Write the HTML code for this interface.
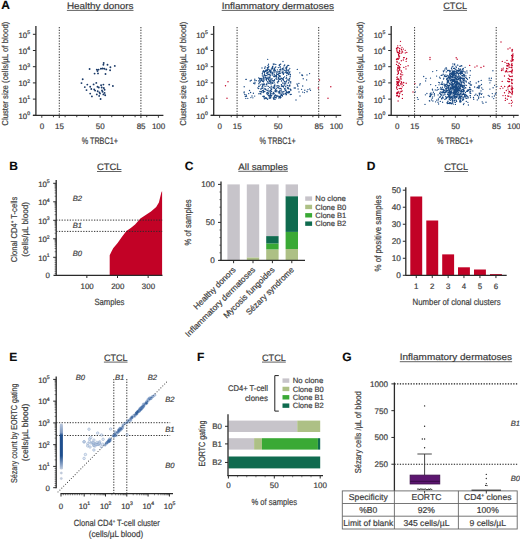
<!DOCTYPE html>
<html><head><meta charset="utf-8"><style>
html,body{margin:0;padding:0;background:#fff;width:520px;height:540px;overflow:hidden}
svg{display:block}
text{font-family:"Liberation Sans", sans-serif;fill:#3c3c3c;stroke:#3c3c3c;stroke-width:0.2px;text-rendering:geometricPrecision}
</style></head><body>
<svg width="520" height="540" viewBox="0 0 520 540">
<text x="1.20" y="9.40" font-size="12" font-weight="bold" style="fill:#0a0a0a;stroke:#0a0a0a;stroke-width:0.15px;">A</text>
<line x1="59.29" y1="27.00" x2="59.29" y2="115.00" stroke="#2a2a2a" stroke-width="0.95" stroke-dasharray="1.3 1.4"/>
<line x1="140.91" y1="27.00" x2="140.91" y2="115.00" stroke="#2a2a2a" stroke-width="0.95" stroke-dasharray="1.3 1.4"/>
<line x1="35.90" y1="26.00" x2="35.90" y2="116.00" stroke="#2a2a2a" stroke-width="1.3"/>
<line x1="32.90" y1="115.30" x2="35.90" y2="115.30" stroke="#2a2a2a" stroke-width="1"/>
<text x="30.00" y="118.70" font-size="7.8" text-anchor="end">10<tspan font-size="5.15" dy="-3.43">0</tspan></text>
<line x1="32.90" y1="99.10" x2="35.90" y2="99.10" stroke="#2a2a2a" stroke-width="1"/>
<text x="30.00" y="102.50" font-size="7.8" text-anchor="end">10<tspan font-size="5.15" dy="-3.43">1</tspan></text>
<line x1="32.90" y1="82.90" x2="35.90" y2="82.90" stroke="#2a2a2a" stroke-width="1"/>
<text x="30.00" y="86.30" font-size="7.8" text-anchor="end">10<tspan font-size="5.15" dy="-3.43">2</tspan></text>
<line x1="32.90" y1="66.70" x2="35.90" y2="66.70" stroke="#2a2a2a" stroke-width="1"/>
<text x="30.00" y="70.10" font-size="7.8" text-anchor="end">10<tspan font-size="5.15" dy="-3.43">3</tspan></text>
<line x1="32.90" y1="50.50" x2="35.90" y2="50.50" stroke="#2a2a2a" stroke-width="1"/>
<text x="30.00" y="53.90" font-size="7.8" text-anchor="end">10<tspan font-size="5.15" dy="-3.43">4</tspan></text>
<line x1="32.90" y1="34.30" x2="35.90" y2="34.30" stroke="#2a2a2a" stroke-width="1"/>
<text x="30.00" y="37.70" font-size="7.8" text-anchor="end">10<tspan font-size="5.15" dy="-3.43">5</tspan></text>
<line x1="32.90" y1="115.40" x2="163.40" y2="115.40" stroke="#2a2a2a" stroke-width="1.3"/>
<line x1="41.80" y1="115.40" x2="41.80" y2="117.80" stroke="#2a2a2a" stroke-width="0.9"/>
<line x1="53.46" y1="115.40" x2="53.46" y2="117.20" stroke="#2a2a2a" stroke-width="0.9"/>
<line x1="65.12" y1="115.40" x2="65.12" y2="117.20" stroke="#2a2a2a" stroke-width="0.9"/>
<line x1="76.78" y1="115.40" x2="76.78" y2="117.20" stroke="#2a2a2a" stroke-width="0.9"/>
<line x1="88.44" y1="115.40" x2="88.44" y2="117.20" stroke="#2a2a2a" stroke-width="0.9"/>
<line x1="100.10" y1="115.40" x2="100.10" y2="117.80" stroke="#2a2a2a" stroke-width="0.9"/>
<line x1="111.76" y1="115.40" x2="111.76" y2="117.20" stroke="#2a2a2a" stroke-width="0.9"/>
<line x1="123.42" y1="115.40" x2="123.42" y2="117.20" stroke="#2a2a2a" stroke-width="0.9"/>
<line x1="135.08" y1="115.40" x2="135.08" y2="117.20" stroke="#2a2a2a" stroke-width="0.9"/>
<line x1="146.74" y1="115.40" x2="146.74" y2="117.20" stroke="#2a2a2a" stroke-width="0.9"/>
<line x1="158.40" y1="115.40" x2="158.40" y2="117.80" stroke="#2a2a2a" stroke-width="0.9"/>
<line x1="59.29" y1="115.40" x2="59.29" y2="118.00" stroke="#2a2a2a" stroke-width="0.9"/>
<line x1="140.91" y1="115.40" x2="140.91" y2="118.00" stroke="#2a2a2a" stroke-width="0.9"/>
<text x="42.00" y="128.90" font-size="8.0" text-anchor="middle">0</text>
<text x="59.49" y="128.90" font-size="8.0" text-anchor="middle">15</text>
<text x="100.30" y="128.90" font-size="8.0" text-anchor="middle">50</text>
<text x="141.11" y="128.90" font-size="8.0" text-anchor="middle">85</text>
<text x="158.60" y="128.90" font-size="8.0" text-anchor="middle">100</text>
<text x="99.80" y="143.60" font-size="9.5" text-anchor="middle" textLength="36.3" lengthAdjust="spacingAndGlyphs">% TRBC1+</text>
<text x="7.90" y="73.70" font-size="8.6" text-anchor="middle" textLength="104" lengthAdjust="spacingAndGlyphs" transform="rotate(-90 7.90 73.70)">Cluster size (cells/µL of blood)</text>
<text x="100.20" y="8.90" font-size="9.3" text-anchor="middle" textLength="66.6" lengthAdjust="spacingAndGlyphs">Healthy donors</text>
<line x1="66.90" y1="10.40" x2="133.50" y2="10.40" stroke="#3a3a3a" stroke-width="0.8"/>
<path d="M103.7 62.9h0M103.4 64.8h0M107.5 64.8h0M114.8 65.9h0M110.4 67.3h0M89.6 69.0h0M96.8 69.6h0M98.6 69.6h0M100.9 68.8h0M102.6 68.5h0M104.4 68.8h0M106.3 69.4h0M110.1 70.2h0M97.5 71.1h0M94.6 73.6h0M98.0 73.4h0M105.5 74.0h0M82.7 79.2h0M81.5 83.1h0M87.3 84.6h0M93.6 84.4h0M96.3 82.9h0M84.8 87.1h0M90.2 86.7h0M97.5 86.7h0M101.1 85.2h0M103.4 84.6h0M109.2 84.6h0M112.9 86.0h0M91.3 89.0h0M94.2 89.4h0M98.8 87.5h0M101.7 87.5h0M86.5 90.1h0M95.1 90.6h0M97.7 91.3h0M104.6 89.8h0M102.6 91.8h0M104.6 92.9h0M100.0 93.6h0M90.2 93.6h0M96.8 94.4h0M103.4 94.4h0M91.9 96.4h0M99.2 95.9h0M100.6 99.0h0M105.2 95.2h0M102.0 90.5h0M99.5 92.5h0M103.8 88.0h0" stroke="#1a3a68" stroke-width="1.9" stroke-linecap="round" fill="none" opacity="1"/>
<line x1="237.09" y1="27.00" x2="237.09" y2="115.00" stroke="#2a2a2a" stroke-width="0.95" stroke-dasharray="1.3 1.4"/>
<line x1="318.71" y1="27.00" x2="318.71" y2="115.00" stroke="#2a2a2a" stroke-width="0.95" stroke-dasharray="1.3 1.4"/>
<line x1="213.70" y1="26.00" x2="213.70" y2="116.00" stroke="#2a2a2a" stroke-width="1.3"/>
<line x1="210.70" y1="115.30" x2="213.70" y2="115.30" stroke="#2a2a2a" stroke-width="1"/>
<text x="207.80" y="118.70" font-size="7.8" text-anchor="end">10<tspan font-size="5.15" dy="-3.43">0</tspan></text>
<line x1="210.70" y1="99.10" x2="213.70" y2="99.10" stroke="#2a2a2a" stroke-width="1"/>
<text x="207.80" y="102.50" font-size="7.8" text-anchor="end">10<tspan font-size="5.15" dy="-3.43">1</tspan></text>
<line x1="210.70" y1="82.90" x2="213.70" y2="82.90" stroke="#2a2a2a" stroke-width="1"/>
<text x="207.80" y="86.30" font-size="7.8" text-anchor="end">10<tspan font-size="5.15" dy="-3.43">2</tspan></text>
<line x1="210.70" y1="66.70" x2="213.70" y2="66.70" stroke="#2a2a2a" stroke-width="1"/>
<text x="207.80" y="70.10" font-size="7.8" text-anchor="end">10<tspan font-size="5.15" dy="-3.43">3</tspan></text>
<line x1="210.70" y1="50.50" x2="213.70" y2="50.50" stroke="#2a2a2a" stroke-width="1"/>
<text x="207.80" y="53.90" font-size="7.8" text-anchor="end">10<tspan font-size="5.15" dy="-3.43">4</tspan></text>
<line x1="210.70" y1="34.30" x2="213.70" y2="34.30" stroke="#2a2a2a" stroke-width="1"/>
<text x="207.80" y="37.70" font-size="7.8" text-anchor="end">10<tspan font-size="5.15" dy="-3.43">5</tspan></text>
<line x1="210.70" y1="115.40" x2="341.20" y2="115.40" stroke="#2a2a2a" stroke-width="1.3"/>
<line x1="219.60" y1="115.40" x2="219.60" y2="117.80" stroke="#2a2a2a" stroke-width="0.9"/>
<line x1="231.26" y1="115.40" x2="231.26" y2="117.20" stroke="#2a2a2a" stroke-width="0.9"/>
<line x1="242.92" y1="115.40" x2="242.92" y2="117.20" stroke="#2a2a2a" stroke-width="0.9"/>
<line x1="254.58" y1="115.40" x2="254.58" y2="117.20" stroke="#2a2a2a" stroke-width="0.9"/>
<line x1="266.24" y1="115.40" x2="266.24" y2="117.20" stroke="#2a2a2a" stroke-width="0.9"/>
<line x1="277.90" y1="115.40" x2="277.90" y2="117.80" stroke="#2a2a2a" stroke-width="0.9"/>
<line x1="289.56" y1="115.40" x2="289.56" y2="117.20" stroke="#2a2a2a" stroke-width="0.9"/>
<line x1="301.22" y1="115.40" x2="301.22" y2="117.20" stroke="#2a2a2a" stroke-width="0.9"/>
<line x1="312.88" y1="115.40" x2="312.88" y2="117.20" stroke="#2a2a2a" stroke-width="0.9"/>
<line x1="324.54" y1="115.40" x2="324.54" y2="117.20" stroke="#2a2a2a" stroke-width="0.9"/>
<line x1="336.20" y1="115.40" x2="336.20" y2="117.80" stroke="#2a2a2a" stroke-width="0.9"/>
<line x1="237.09" y1="115.40" x2="237.09" y2="118.00" stroke="#2a2a2a" stroke-width="0.9"/>
<line x1="318.71" y1="115.40" x2="318.71" y2="118.00" stroke="#2a2a2a" stroke-width="0.9"/>
<text x="219.80" y="128.90" font-size="8.0" text-anchor="middle">0</text>
<text x="237.29" y="128.90" font-size="8.0" text-anchor="middle">15</text>
<text x="278.10" y="128.90" font-size="8.0" text-anchor="middle">50</text>
<text x="318.91" y="128.90" font-size="8.0" text-anchor="middle">85</text>
<text x="336.40" y="128.90" font-size="8.0" text-anchor="middle">100</text>
<text x="277.60" y="143.60" font-size="9.5" text-anchor="middle" textLength="36.3" lengthAdjust="spacingAndGlyphs">% TRBC1+</text>
<text x="185.70" y="73.70" font-size="8.6" text-anchor="middle" textLength="104" lengthAdjust="spacingAndGlyphs" transform="rotate(-90 185.70 73.70)">Cluster size (cells/µL of blood)</text>
<text x="277.85" y="8.90" font-size="9.3" text-anchor="middle" textLength="112.30000000000001" lengthAdjust="spacingAndGlyphs">Inflammatory dermatoses</text>
<line x1="221.70" y1="10.40" x2="334.00" y2="10.40" stroke="#3a3a3a" stroke-width="0.8"/>
<path d="M267.3 67.7h0M279.7 64.8h0M275.4 75.9h0M271.1 93.4h0M278.8 98.0h0M276.9 77.1h0M287.6 73.0h0M266.7 93.0h0M261.9 84.1h0M279.3 76.2h0M275.8 64.4h0M280.9 78.2h0M266.9 84.3h0M272.2 73.4h0M285.2 88.6h0M264.3 83.8h0M275.0 95.3h0M282.7 72.9h0M270.9 90.8h0M260.8 80.6h0M284.1 83.8h0M288.3 73.9h0M281.4 84.6h0M277.0 79.3h0M273.0 87.2h0M286.2 72.8h0M269.7 87.4h0M269.9 95.1h0M275.9 95.6h0M286.1 94.8h0M265.6 77.8h0M268.6 95.6h0M263.9 80.4h0M277.4 72.0h0M269.0 83.5h0M274.6 85.5h0M280.7 64.1h0M289.2 91.6h0M288.2 92.3h0M269.9 77.2h0M258.9 86.1h0M278.3 67.6h0M264.6 75.2h0M268.8 66.7h0M272.7 80.4h0M268.0 72.1h0M286.5 68.1h0M275.1 67.6h0M275.1 99.2h0M287.8 88.5h0M264.9 75.9h0M261.3 91.3h0M275.2 91.6h0M267.5 70.5h0M287.4 92.6h0M286.1 90.1h0M263.6 81.7h0M264.8 88.3h0M263.4 70.6h0M278.7 96.2h0M286.9 80.2h0M279.8 92.4h0M289.6 91.7h0M283.5 80.2h0M261.8 92.0h0M267.6 92.4h0M270.3 98.0h0M282.5 68.5h0M289.4 92.6h0M260.6 93.4h0M268.3 82.8h0M275.0 97.5h0M271.5 95.1h0M286.4 70.0h0M264.6 73.1h0M264.1 84.3h0M264.9 77.9h0M268.4 79.4h0M277.2 96.4h0M271.0 96.9h0M274.1 82.2h0M271.7 69.0h0M261.5 80.0h0M282.6 83.1h0M267.4 81.7h0M276.1 91.8h0M259.0 83.3h0M264.4 72.5h0M284.3 81.3h0M276.3 90.9h0M289.7 78.8h0M278.3 81.2h0M274.5 88.3h0M272.2 82.3h0M273.2 97.8h0M281.6 95.3h0M276.3 97.8h0M286.9 67.2h0M259.6 78.8h0M260.9 89.2h0M280.1 67.4h0M270.1 80.5h0M261.1 78.4h0M274.6 74.9h0M262.4 74.1h0M276.1 78.7h0M278.7 81.5h0M265.3 66.9h0M271.0 96.6h0M286.1 71.8h0M276.7 88.6h0M281.2 78.2h0M279.1 92.5h0M272.2 74.9h0M276.0 97.2h0M265.2 66.9h0M275.0 71.1h0M266.9 73.6h0M283.9 73.0h0M274.0 68.8h0M282.9 82.9h0M262.2 80.0h0M286.1 78.4h0M273.8 93.7h0M269.9 81.3h0M268.0 93.6h0M281.9 86.2h0M270.4 75.2h0M264.7 68.2h0M288.1 87.5h0M265.7 71.2h0M266.1 79.5h0M261.0 78.9h0M265.0 98.5h0M264.3 98.7h0M266.8 75.6h0M273.0 81.1h0M262.6 81.2h0M266.6 70.8h0M277.3 82.1h0M283.5 87.0h0M282.2 95.4h0M269.8 74.4h0M282.5 86.4h0M288.9 85.8h0M282.9 92.9h0M260.3 81.9h0M274.2 93.7h0M285.6 93.4h0M277.2 95.9h0M281.0 88.3h0M259.0 93.8h0M276.2 85.9h0M278.8 87.9h0M285.3 90.4h0M274.1 82.3h0M280.1 64.5h0M283.0 71.6h0M282.7 69.8h0M273.8 76.5h0M273.2 88.0h0M284.1 85.4h0M279.4 64.9h0M283.2 73.6h0M280.5 88.3h0M280.7 73.1h0M274.6 79.7h0M272.7 66.5h0M289.0 69.6h0M272.1 72.2h0M263.0 84.1h0M260.4 81.9h0M286.2 81.3h0M288.7 88.7h0M263.8 96.1h0M272.1 73.5h0M267.0 93.9h0M286.9 66.6h0M290.2 89.1h0M289.3 73.0h0M269.1 76.9h0M268.7 78.3h0M258.9 93.7h0M265.9 97.6h0M264.5 72.1h0M274.4 69.2h0M269.2 98.3h0M288.6 92.9h0M279.0 96.7h0M290.7 82.9h0M282.8 79.1h0M283.6 86.5h0M272.9 75.1h0M266.3 90.1h0M279.9 73.4h0M276.2 77.0h0M262.9 96.4h0M273.9 70.4h0M272.1 67.3h0M268.0 65.5h0M264.1 71.8h0M276.6 95.7h0M283.5 77.7h0M270.7 81.9h0M269.3 74.9h0M274.1 85.9h0M287.8 70.2h0M265.3 71.4h0M270.2 78.9h0M289.0 80.0h0M269.9 97.2h0M286.4 94.5h0M274.8 87.9h0M290.8 89.4h0M279.6 91.1h0M272.4 83.0h0M263.8 97.0h0M279.5 73.5h0M279.2 88.5h0M274.9 84.1h0M269.7 70.5h0M266.5 79.5h0M288.6 80.1h0M263.9 71.4h0M273.9 87.6h0M271.0 71.8h0M280.4 97.2h0M267.8 78.0h0M280.9 69.5h0M285.3 90.1h0M274.2 69.8h0M286.2 70.8h0M263.4 90.9h0M266.2 98.2h0M273.8 69.1h0M263.5 77.8h0M280.3 98.1h0M290.4 74.5h0M280.2 76.4h0M269.2 74.6h0M265.6 75.4h0M268.6 93.2h0M286.2 78.4h0M269.2 96.9h0M262.3 75.8h0M270.6 92.8h0M290.0 71.8h0M267.9 72.3h0M265.0 89.2h0M267.0 72.5h0M289.8 86.1h0M263.9 80.1h0M269.7 71.5h0M271.3 80.8h0M285.5 90.1h0M286.3 91.4h0M278.1 74.5h0M267.1 75.8h0M284.7 65.0h0M262.5 90.6h0M267.4 99.2h0M258.7 80.9h0M282.0 79.0h0M263.9 77.8h0M278.6 87.6h0M283.4 94.2h0M280.2 66.6h0M287.0 73.2h0M276.5 76.2h0M283.0 69.6h0M264.4 71.3h0M277.0 74.4h0M274.3 70.8h0M285.7 86.8h0M273.0 93.1h0M290.3 76.1h0M287.9 79.1h0M264.9 91.6h0M277.7 85.6h0M263.3 76.0h0M264.7 84.8h0M279.8 69.7h0M280.8 69.0h0M266.9 69.7h0M285.2 82.8h0M270.0 82.9h0M279.3 65.5h0M261.2 88.4h0M270.6 72.8h0M266.7 98.2h0M266.9 83.5h0M268.6 77.8h0M268.8 69.5h0M282.7 69.7h0M271.1 93.2h0M270.4 95.5h0M272.5 68.2h0M279.3 96.6h0M269.1 81.2h0M274.8 97.2h0M259.1 80.6h0M273.3 64.0h0M290.2 76.7h0M289.4 85.6h0M286.3 68.1h0M284.9 70.4h0M270.4 94.2h0M286.5 69.0h0M263.3 77.2h0M274.7 76.6h0M282.5 96.1h0M286.9 66.5h0M277.8 82.9h0M278.8 73.6h0M271.0 84.1h0M271.2 87.0h0M272.0 78.7h0M273.6 70.9h0M284.0 91.6h0M272.4 68.8h0M273.0 66.1h0M259.9 78.4h0M279.2 65.1h0M282.9 91.6h0M274.4 64.1h0M274.1 76.4h0M282.8 93.0h0M273.7 98.4h0M289.8 68.3h0M283.7 68.0h0M289.1 72.4h0M286.0 67.5h0M274.1 97.0h0M262.9 72.0h0M274.2 74.1h0M280.8 96.0h0M261.4 91.8h0M259.4 82.2h0M279.2 75.7h0M288.2 83.1h0M277.0 95.5h0M278.9 77.0h0M285.3 72.1h0M268.7 91.1h0M271.8 68.7h0M286.2 71.6h0M277.3 87.2h0M278.4 78.4h0M274.5 96.0h0M263.5 84.2h0M277.4 69.8h0M278.7 80.0h0M258.6 86.3h0M288.1 91.7h0M270.3 72.0h0M276.4 75.3h0M279.5 78.9h0M290.6 89.9h0M264.4 96.3h0M270.4 71.0h0M262.6 85.1h0M274.3 86.4h0M285.9 68.6h0M266.8 73.4h0M284.8 89.2h0M283.3 79.7h0M283.2 79.2h0M267.7 90.5h0M281.4 94.1h0M282.0 72.1h0M276.0 78.6h0M285.0 81.9h0M265.1 86.4h0M264.9 71.0h0M283.4 74.4h0M288.4 74.5h0M264.1 96.5h0M279.0 88.3h0M272.8 93.9h0M281.5 94.6h0M271.6 89.5h0M276.7 73.7h0M263.1 85.7h0M268.1 67.4h0M281.3 86.1h0M281.5 90.0h0M268.8 93.1h0M287.2 92.9h0M279.1 93.4h0M279.0 72.9h0M283.8 69.8h0M267.1 78.1h0M265.7 89.2h0M269.0 74.2h0M287.4 85.5h0M271.6 91.4h0M268.2 88.8h0M275.4 70.2h0M287.8 65.5h0M286.2 68.5h0M273.7 92.3h0M262.0 80.8h0M268.2 93.6h0M264.9 97.9h0M265.8 70.2h0M281.6 80.9h0M259.2 86.2h0M281.5 91.9h0M278.9 75.5h0M270.2 77.0h0M288.8 65.3h0M262.8 72.0h0M289.2 81.0h0M269.4 95.6h0M263.9 79.5h0M275.2 90.7h0M283.6 86.6h0M268.2 74.4h0M260.9 94.0h0M280.2 90.2h0M261.4 78.7h0M284.4 84.0h0M259.8 79.6h0M288.6 71.0h0M262.3 73.5h0M281.7 94.1h0M264.4 74.4h0M274.8 68.1h0M267.5 69.2h0M282.9 78.5h0M262.5 86.2h0M270.2 92.1h0M281.4 81.0h0M279.0 79.6h0M260.4 84.9h0M270.4 90.2h0M289.5 78.3h0M276.8 90.5h0M271.0 70.7h0M282.4 95.4h0M284.4 88.6h0M287.4 87.8h0M279.4 79.2h0M266.9 85.9h0M258.7 77.9h0M284.7 89.1h0M278.9 71.5h0M271.1 79.3h0M278.6 77.6h0M280.7 97.3h0M262.0 86.9h0M284.6 76.8h0M273.6 99.0h0M261.1 91.7h0M290.7 81.7h0M258.8 83.8h0M275.6 89.3h0M274.5 86.3h0M286.5 81.8h0M270.6 98.0h0M263.0 88.0h0M269.9 91.0h0M268.5 64.2h0M265.4 77.2h0M271.0 88.5h0M268.4 72.1h0M263.5 90.2h0M290.7 82.0h0M263.3 92.5h0M269.9 70.1h0M259.9 91.5h0M285.8 86.1h0M272.8 83.4h0M268.4 86.3h0M286.1 93.0h0M272.8 73.2h0M275.8 66.8h0M286.7 75.5h0M287.3 72.2h0M269.3 71.6h0M271.2 69.1h0M265.7 71.3h0M266.5 80.2h0M271.3 86.2h0M280.1 75.8h0M290.3 94.5h0M289.4 91.8h0M260.3 93.6h0M279.9 71.5h0M263.9 91.5h0M268.2 67.8h0M289.4 92.1h0M278.1 91.7h0M280.4 96.0h0M284.9 93.9h0M262.5 88.3h0M275.2 90.2h0M271.7 95.5h0M276.1 72.1h0M273.7 64.2h0M272.7 67.5h0M273.7 80.9h0M275.5 94.8h0M272.8 83.4h0M280.3 93.9h0M269.2 77.9h0M279.2 86.2h0M280.9 97.4h0M267.6 99.3h0M274.4 80.4h0M282.3 85.8h0M267.9 94.7h0M268.9 80.0h0M275.0 91.3h0M263.0 78.5h0M271.1 83.1h0M286.4 73.1h0M286.5 77.3h0M274.1 72.3h0M274.2 99.0h0M279.9 92.1h0M267.6 74.0h0M266.4 84.3h0M279.1 91.8h0M288.7 82.7h0M290.0 85.1h0M280.0 92.0h0M289.6 85.2h0M278.4 85.8h0M281.5 84.7h0M280.9 70.1h0M280.3 79.4h0M284.0 65.9h0M279.9 76.0h0M286.3 91.9h0M276.4 71.8h0M266.5 78.0h0M267.1 78.4h0M279.4 97.5h0M285.8 83.9h0M257.8 87.9h0M244.2 86.7h0M252.9 97.8h0M258.7 88.5h0M250.2 81.0h0M253.7 83.2h0M246.3 79.3h0M244.1 92.7h0M245.8 98.3h0M245.3 96.4h0M245.9 79.4h0M254.8 83.8h0M255.0 82.7h0M244.8 94.5h0M254.7 96.1h0M254.9 80.7h0M253.4 93.2h0M250.9 97.6h0M247.8 98.3h0M254.8 79.2h0M244.2 92.0h0M256.3 80.6h0M248.7 93.6h0M246.5 96.2h0M251.3 80.2h0M249.5 90.5h0M250.6 92.5h0M246.2 94.9h0M297.6 85.1h0M303.2 78.7h0M298.1 89.0h0M309.8 89.0h0M301.9 75.2h0M291.3 94.3h0M304.8 90.2h0M297.0 84.0h0M310.5 90.3h0M302.6 75.6h0M299.0 91.9h0M297.9 86.2h0M302.6 92.1h0M307.0 74.9h0M290.0 74.4h0M298.9 83.4h0M307.1 91.8h0M290.9 90.3h0M307.0 91.3h0M302.0 74.7h0M307.9 89.6h0M304.4 92.6h0M297.3 69.4h0M301.6 89.3h0M294.2 88.0h0M309.6 73.6h0M302.7 86.0h0M299.8 72.8h0M295.3 88.0h0M306.6 79.9h0M267.7 59.3h0M262.0 68.0h0M283.0 61.5h0M296.0 100.0h0M252.0 96.0h0M300.0 96.0h0" stroke="#1a4a84" stroke-width="1.35" stroke-linecap="round" fill="none" opacity="1"/>
<path d="M228.0 81.8h0M225.5 85.8h0M227.0 98.3h0M319.5 80.0h0M318.3 88.0h0M330.8 86.8h0M328.0 98.3h0" stroke="#c20226" stroke-width="1.4" stroke-linecap="round" fill="none" opacity="1"/>
<line x1="414.59" y1="27.00" x2="414.59" y2="115.00" stroke="#2a2a2a" stroke-width="0.95" stroke-dasharray="1.3 1.4"/>
<line x1="496.21" y1="27.00" x2="496.21" y2="115.00" stroke="#2a2a2a" stroke-width="0.95" stroke-dasharray="1.3 1.4"/>
<line x1="391.20" y1="26.00" x2="391.20" y2="116.00" stroke="#2a2a2a" stroke-width="1.3"/>
<line x1="388.20" y1="115.30" x2="391.20" y2="115.30" stroke="#2a2a2a" stroke-width="1"/>
<text x="385.30" y="118.70" font-size="7.8" text-anchor="end">10<tspan font-size="5.15" dy="-3.43">0</tspan></text>
<line x1="388.20" y1="99.10" x2="391.20" y2="99.10" stroke="#2a2a2a" stroke-width="1"/>
<text x="385.30" y="102.50" font-size="7.8" text-anchor="end">10<tspan font-size="5.15" dy="-3.43">1</tspan></text>
<line x1="388.20" y1="82.90" x2="391.20" y2="82.90" stroke="#2a2a2a" stroke-width="1"/>
<text x="385.30" y="86.30" font-size="7.8" text-anchor="end">10<tspan font-size="5.15" dy="-3.43">2</tspan></text>
<line x1="388.20" y1="66.70" x2="391.20" y2="66.70" stroke="#2a2a2a" stroke-width="1"/>
<text x="385.30" y="70.10" font-size="7.8" text-anchor="end">10<tspan font-size="5.15" dy="-3.43">3</tspan></text>
<line x1="388.20" y1="50.50" x2="391.20" y2="50.50" stroke="#2a2a2a" stroke-width="1"/>
<text x="385.30" y="53.90" font-size="7.8" text-anchor="end">10<tspan font-size="5.15" dy="-3.43">4</tspan></text>
<line x1="388.20" y1="34.30" x2="391.20" y2="34.30" stroke="#2a2a2a" stroke-width="1"/>
<text x="385.30" y="37.70" font-size="7.8" text-anchor="end">10<tspan font-size="5.15" dy="-3.43">5</tspan></text>
<line x1="388.20" y1="115.40" x2="518.70" y2="115.40" stroke="#2a2a2a" stroke-width="1.3"/>
<line x1="397.10" y1="115.40" x2="397.10" y2="117.80" stroke="#2a2a2a" stroke-width="0.9"/>
<line x1="408.76" y1="115.40" x2="408.76" y2="117.20" stroke="#2a2a2a" stroke-width="0.9"/>
<line x1="420.42" y1="115.40" x2="420.42" y2="117.20" stroke="#2a2a2a" stroke-width="0.9"/>
<line x1="432.08" y1="115.40" x2="432.08" y2="117.20" stroke="#2a2a2a" stroke-width="0.9"/>
<line x1="443.74" y1="115.40" x2="443.74" y2="117.20" stroke="#2a2a2a" stroke-width="0.9"/>
<line x1="455.40" y1="115.40" x2="455.40" y2="117.80" stroke="#2a2a2a" stroke-width="0.9"/>
<line x1="467.06" y1="115.40" x2="467.06" y2="117.20" stroke="#2a2a2a" stroke-width="0.9"/>
<line x1="478.72" y1="115.40" x2="478.72" y2="117.20" stroke="#2a2a2a" stroke-width="0.9"/>
<line x1="490.38" y1="115.40" x2="490.38" y2="117.20" stroke="#2a2a2a" stroke-width="0.9"/>
<line x1="502.04" y1="115.40" x2="502.04" y2="117.20" stroke="#2a2a2a" stroke-width="0.9"/>
<line x1="513.70" y1="115.40" x2="513.70" y2="117.80" stroke="#2a2a2a" stroke-width="0.9"/>
<line x1="414.59" y1="115.40" x2="414.59" y2="118.00" stroke="#2a2a2a" stroke-width="0.9"/>
<line x1="496.21" y1="115.40" x2="496.21" y2="118.00" stroke="#2a2a2a" stroke-width="0.9"/>
<text x="397.30" y="128.90" font-size="8.0" text-anchor="middle">0</text>
<text x="414.79" y="128.90" font-size="8.0" text-anchor="middle">15</text>
<text x="455.60" y="128.90" font-size="8.0" text-anchor="middle">50</text>
<text x="496.41" y="128.90" font-size="8.0" text-anchor="middle">85</text>
<text x="513.90" y="128.90" font-size="8.0" text-anchor="middle">100</text>
<text x="455.10" y="143.60" font-size="9.5" text-anchor="middle" textLength="36.3" lengthAdjust="spacingAndGlyphs">% TRBC1+</text>
<text x="363.20" y="73.70" font-size="8.6" text-anchor="middle" textLength="104" lengthAdjust="spacingAndGlyphs" transform="rotate(-90 363.20 73.70)">Cluster size (cells/µL of blood)</text>
<text x="455.15" y="8.90" font-size="9.3" text-anchor="middle" textLength="23.69999999999999" lengthAdjust="spacingAndGlyphs">CTCL</text>
<line x1="443.30" y1="10.40" x2="467.00" y2="10.40" stroke="#3a3a3a" stroke-width="0.8"/>
<path d="M465.5 92.4h0M456.2 74.1h0M443.3 70.8h0M461.4 73.2h0M446.9 84.2h0M457.1 88.7h0M459.8 97.5h0M450.0 92.8h0M449.1 89.6h0M456.7 84.7h0M461.8 81.8h0M462.7 91.6h0M456.4 75.8h0M450.6 76.2h0M454.2 81.7h0M460.5 72.5h0M450.9 78.5h0M456.7 70.6h0M466.0 75.8h0M455.5 85.1h0M456.7 88.6h0M457.3 83.8h0M443.2 74.2h0M440.3 88.9h0M457.5 79.9h0M450.2 75.6h0M455.1 96.2h0M452.4 72.4h0M451.9 84.1h0M455.8 85.0h0M455.3 92.2h0M456.6 79.1h0M457.8 65.2h0M458.9 84.1h0M453.1 73.7h0M446.3 71.9h0M460.0 88.0h0M455.4 87.7h0M451.6 82.8h0M455.8 88.1h0M455.0 80.4h0M454.6 74.9h0M470.0 87.7h0M460.0 91.2h0M467.8 96.5h0M460.5 69.1h0M449.8 85.0h0M458.8 70.8h0M453.0 77.6h0M455.9 85.7h0M453.6 68.4h0M463.6 99.6h0M454.8 93.3h0M458.4 89.3h0M458.6 73.6h0M459.2 93.1h0M449.7 103.6h0M468.4 90.2h0M453.3 75.4h0M450.2 83.3h0M455.3 89.4h0M470.3 81.7h0M459.9 87.2h0M457.3 79.7h0M454.7 72.9h0M456.7 81.7h0M457.6 72.6h0M455.8 82.5h0M459.4 70.3h0M458.2 92.8h0M459.4 77.9h0M452.3 79.4h0M460.2 99.1h0M454.5 74.9h0M457.9 84.2h0M449.6 73.9h0M454.8 89.4h0M447.7 70.8h0M458.7 68.5h0M456.2 85.9h0M454.8 70.8h0M455.1 78.3h0M457.7 72.8h0M454.4 82.1h0M461.8 75.3h0M459.0 75.8h0M460.3 101.1h0M452.9 86.9h0M449.5 92.7h0M463.4 82.4h0M448.1 86.4h0M463.0 94.0h0M451.1 97.6h0M447.5 94.4h0M467.7 90.4h0M462.8 78.3h0M447.5 80.9h0M454.2 81.5h0M460.0 80.4h0M456.7 86.7h0M455.5 102.3h0M458.4 82.9h0M454.2 75.1h0M464.2 83.7h0M448.5 75.8h0M454.6 77.1h0M462.5 69.2h0M458.7 83.6h0M447.8 82.5h0M454.9 87.5h0M452.6 85.3h0M444.7 70.1h0M460.6 93.5h0M455.4 75.4h0M450.3 89.4h0M459.7 70.6h0M443.2 98.0h0M456.5 72.1h0M455.9 91.9h0M462.9 86.4h0M470.1 75.3h0M455.5 93.5h0M451.3 74.2h0M453.1 81.2h0M448.5 87.3h0M459.0 82.8h0M466.6 78.4h0M464.0 76.0h0M456.8 80.1h0M452.3 75.3h0M453.2 74.1h0M441.2 75.4h0M451.9 76.2h0M448.6 80.5h0M460.6 79.2h0M452.3 96.9h0M461.9 92.1h0M463.0 78.4h0M454.7 94.2h0M451.9 80.7h0M458.0 86.1h0M453.7 92.8h0M454.3 90.0h0M462.5 89.3h0M460.3 69.2h0M447.0 75.2h0M458.6 98.5h0M447.6 85.4h0M449.9 73.9h0M453.7 89.6h0M456.9 95.0h0M449.1 91.8h0M461.5 82.8h0M458.6 75.8h0M448.4 77.5h0M452.3 100.2h0M456.8 85.4h0M460.3 73.4h0M461.5 86.1h0M445.6 88.6h0M459.1 87.0h0M465.8 77.4h0M458.8 90.2h0M449.6 95.2h0M446.1 67.7h0M458.9 70.0h0M454.7 63.9h0M455.9 69.5h0M457.7 65.1h0M458.4 79.1h0M455.9 81.3h0M456.3 67.5h0M438.8 82.4h0M449.4 77.0h0M450.5 75.3h0M448.6 85.6h0M454.6 73.0h0M449.1 90.9h0M451.2 88.4h0M448.5 82.0h0M457.7 90.6h0M460.7 93.4h0M453.1 79.7h0M460.5 77.3h0M459.7 80.1h0M442.7 92.8h0M457.5 82.2h0M448.5 76.9h0M465.3 72.9h0M447.7 80.5h0M452.9 72.0h0M450.0 93.5h0M452.0 70.0h0M460.6 88.2h0M448.7 90.2h0M443.5 71.8h0M462.8 79.2h0M447.0 87.7h0M461.5 81.8h0M443.8 78.2h0M458.2 90.5h0M467.5 79.2h0M452.4 81.6h0M463.3 71.6h0M460.7 74.6h0M458.5 89.6h0M447.8 81.0h0M457.1 88.5h0M449.5 71.1h0M454.2 79.6h0M445.8 92.2h0M452.0 97.8h0M461.0 82.2h0M460.2 69.8h0M453.4 75.7h0M447.2 82.2h0M454.6 97.8h0M449.5 76.9h0M458.2 86.4h0M455.7 76.8h0M458.7 86.0h0M443.5 79.1h0M446.6 69.0h0M456.5 82.7h0M456.2 72.4h0M454.2 72.0h0M458.0 89.6h0M466.9 95.9h0M450.3 77.0h0M449.4 85.4h0M468.4 89.8h0M447.1 87.7h0M455.5 85.3h0M467.1 72.9h0M450.0 103.6h0M457.7 73.4h0M439.6 82.8h0M455.8 92.9h0M454.6 74.4h0M450.7 102.9h0M444.0 83.9h0M455.7 88.8h0M452.9 87.5h0M460.8 80.4h0M452.5 80.0h0M449.2 79.7h0M453.5 84.3h0M464.2 96.4h0M452.6 88.6h0M457.4 90.4h0M455.6 84.9h0M452.5 73.4h0M461.2 96.3h0M459.8 86.8h0M457.2 77.0h0M443.9 89.3h0M456.8 75.9h0M449.2 96.1h0M450.8 81.8h0M452.2 83.7h0M454.1 73.8h0M462.5 73.4h0M452.2 88.1h0M452.0 77.2h0M457.8 78.0h0M447.4 80.9h0M454.1 100.8h0M448.4 92.7h0M450.4 78.1h0M453.4 85.0h0M461.1 101.2h0M451.4 96.6h0M462.0 90.9h0M450.6 91.9h0M454.8 85.9h0M453.8 89.3h0M462.7 94.4h0M454.2 92.9h0M464.9 71.7h0M465.1 67.3h0M459.0 88.5h0M465.1 85.1h0M452.4 73.2h0M447.4 90.4h0M454.0 74.1h0M459.0 73.6h0M452.7 77.0h0M466.3 98.1h0M454.5 64.7h0M457.3 82.8h0M457.8 88.2h0M453.4 92.2h0M460.9 84.3h0M452.9 76.7h0M460.0 69.9h0M454.5 73.8h0M446.4 88.6h0M455.3 82.4h0M461.2 65.6h0M455.1 85.2h0M460.9 70.1h0M460.2 84.4h0M464.3 94.5h0M455.5 77.3h0M453.3 71.7h0M455.0 86.7h0M461.9 78.2h0M464.5 74.8h0M450.6 73.3h0M465.0 87.7h0M448.5 87.7h0M458.6 79.5h0M455.6 78.7h0M454.9 95.8h0M464.6 79.0h0M450.8 79.7h0M461.2 85.8h0M451.8 85.9h0M454.2 87.5h0M452.9 66.2h0M455.9 90.2h0M448.5 80.8h0M461.1 78.0h0M451.4 103.8h0M460.8 93.0h0M449.5 99.5h0M445.0 76.4h0M460.2 96.2h0M449.6 74.9h0M459.5 88.0h0M452.7 87.7h0M460.4 85.3h0M458.8 98.2h0M452.5 83.7h0M452.2 93.0h0M452.9 87.1h0M456.4 82.7h0M466.3 81.1h0M464.4 90.8h0M463.8 80.2h0M461.3 90.0h0M451.6 84.9h0M454.7 81.6h0M463.7 74.3h0M452.7 75.1h0M455.6 88.0h0M466.5 85.3h0M458.4 74.2h0M459.1 96.4h0M461.1 98.8h0M460.7 66.1h0M453.6 88.2h0M458.1 73.4h0M449.9 92.2h0M447.1 97.2h0M455.6 85.2h0M447.2 75.7h0M459.8 66.4h0M447.9 82.5h0M458.5 89.8h0M453.2 79.8h0M454.0 75.9h0M457.1 83.7h0M451.6 84.7h0M455.4 81.2h0M457.1 70.7h0M453.5 97.8h0M448.7 80.9h0M451.8 92.0h0M458.7 78.3h0M453.5 93.4h0M450.0 78.1h0M456.4 86.4h0M452.3 92.9h0M469.5 77.7h0M464.3 78.4h0M456.4 78.4h0M451.5 68.5h0M453.0 95.7h0M462.6 78.3h0M452.2 74.6h0M448.0 101.1h0M459.6 83.2h0M452.4 71.2h0M463.7 90.2h0M449.6 92.4h0M448.6 88.8h0M449.5 77.6h0M458.6 86.6h0M461.8 73.2h0M465.4 96.2h0M455.4 86.9h0M450.6 80.4h0M447.3 82.9h0M456.7 96.2h0M461.4 90.6h0M453.2 79.6h0M453.4 84.3h0M443.5 90.1h0M445.7 76.6h0M455.6 76.6h0M465.9 81.0h0M465.3 94.4h0M452.4 86.2h0M463.6 78.5h0M456.1 76.1h0M455.9 78.3h0M456.0 92.6h0M464.2 83.4h0M456.8 91.0h0M453.7 70.8h0M462.4 72.1h0M461.3 71.8h0M466.9 71.0h0M460.8 97.8h0M449.5 97.7h0M460.0 89.4h0M455.2 78.8h0M453.1 78.9h0M444.3 76.0h0M466.7 98.3h0M453.2 74.5h0M458.0 93.2h0M460.0 69.7h0M456.5 83.5h0M464.5 94.6h0M458.8 94.8h0M453.0 98.2h0M452.8 86.2h0M461.2 72.4h0M456.5 81.4h0M453.5 87.3h0M442.3 81.8h0M456.0 79.2h0M460.5 100.5h0M452.7 72.1h0M451.7 83.0h0M459.2 72.9h0M461.7 71.2h0M460.7 86.5h0M453.9 80.3h0M458.5 91.1h0M447.1 84.9h0M450.9 88.7h0M464.0 82.5h0M454.8 83.9h0M459.0 83.7h0M453.0 74.3h0M454.4 94.8h0M454.9 96.2h0M439.5 77.1h0M457.2 81.9h0M445.1 75.0h0M463.3 68.4h0M449.3 70.4h0M452.1 88.8h0M464.6 75.7h0M451.8 99.6h0M455.0 68.9h0M451.5 74.3h0M449.2 78.5h0M461.0 85.7h0M449.3 83.2h0M455.7 90.0h0M453.5 86.8h0M468.6 83.0h0M448.7 85.5h0M450.5 78.1h0M456.7 85.6h0M453.7 91.0h0M454.3 68.2h0M461.0 78.2h0M463.1 75.1h0M459.1 85.3h0M448.5 96.9h0M443.7 91.6h0M462.3 87.2h0M459.7 76.8h0M455.4 84.4h0M458.1 89.5h0M454.2 74.6h0M452.0 86.3h0M445.1 68.8h0M452.9 76.2h0M453.4 79.3h0M453.6 87.0h0M458.6 94.6h0M462.1 70.9h0M459.5 78.5h0M450.5 98.2h0M451.6 73.0h0M453.0 73.0h0M461.8 86.0h0M464.3 86.3h0M451.7 93.1h0M451.4 77.1h0M454.5 82.4h0M463.0 75.6h0M457.7 81.7h0M447.6 70.4h0M454.1 86.3h0M457.5 87.1h0M455.8 77.3h0M458.2 71.4h0M447.1 78.5h0M446.5 76.5h0M450.8 76.1h0M455.2 73.5h0M452.9 63.9h0M456.4 72.7h0M450.5 84.6h0M440.2 78.2h0M456.1 83.1h0M446.1 84.4h0M456.4 71.7h0M460.2 81.5h0M455.6 77.2h0M458.9 83.0h0M462.6 86.8h0M451.6 79.6h0M461.3 78.1h0M457.9 87.5h0M456.3 84.3h0M456.4 73.9h0M463.1 80.6h0M451.6 74.4h0M457.8 70.4h0M449.2 103.3h0M463.7 93.2h0M464.1 88.3h0M444.9 94.7h0M463.3 87.2h0M443.2 95.2h0M464.1 76.8h0M456.3 90.3h0M455.0 93.7h0M456.0 89.4h0M456.0 66.2h0M457.3 96.0h0M462.7 100.3h0M459.0 75.6h0M454.3 91.7h0M441.9 84.1h0M460.7 96.2h0M449.7 75.0h0M443.7 71.1h0M448.3 96.7h0M458.2 76.7h0M455.1 84.3h0M469.8 83.4h0M461.7 96.6h0M458.7 85.8h0M454.3 77.6h0M457.2 81.6h0M456.6 101.4h0M454.8 79.2h0M450.8 81.8h0M452.7 84.2h0M450.1 102.6h0M461.0 90.7h0M460.0 90.8h0M459.8 97.1h0M461.9 96.4h0M452.3 82.0h0M450.9 92.2h0M460.8 77.0h0M463.3 70.1h0M454.9 88.8h0M455.3 86.1h0M463.0 85.5h0M448.6 89.7h0M454.9 83.2h0M451.9 67.2h0M447.6 78.2h0M462.8 69.6h0M450.9 87.7h0M450.6 89.1h0M452.5 85.3h0M456.2 82.0h0M455.2 97.1h0M452.0 87.7h0M456.5 87.2h0M461.8 65.9h0M457.2 80.1h0M453.5 72.9h0M450.5 71.0h0M466.3 82.1h0M460.2 71.5h0M456.4 97.4h0M455.2 71.3h0M454.0 71.3h0M446.7 79.5h0M453.0 73.3h0M449.9 72.0h0M457.0 96.9h0M445.3 84.9h0M448.2 80.3h0M456.1 88.0h0M462.7 76.1h0M447.6 80.0h0M454.9 89.3h0M460.7 102.0h0M438.1 94.9h0M461.9 82.7h0M454.0 91.8h0M438.1 100.1h0M454.1 90.4h0M456.3 96.4h0M459.5 96.1h0M456.0 86.7h0M447.9 93.7h0M425.0 104.4h0M448.3 87.3h0M434.3 94.3h0M452.3 89.9h0M447.9 88.2h0M444.7 92.5h0M445.7 96.6h0M450.6 93.7h0M456.0 99.8h0M457.9 94.2h0M450.4 88.7h0M448.7 96.7h0M454.2 90.9h0M439.0 84.8h0M455.1 98.5h0M455.6 85.6h0M449.9 94.2h0M443.1 94.9h0M450.0 88.5h0M439.9 97.3h0M455.5 88.2h0M442.1 97.8h0M457.8 91.4h0M467.5 91.4h0M441.7 98.9h0M450.2 94.9h0M452.4 87.6h0M440.4 92.0h0M465.7 87.6h0M465.2 94.2h0M441.2 94.4h0M457.5 88.2h0M431.3 94.9h0M441.2 95.4h0M433.4 92.2h0M444.1 85.1h0M449.7 93.9h0M446.6 86.7h0M454.1 83.6h0M457.2 95.6h0M468.3 97.7h0M455.5 94.4h0M452.3 85.9h0M466.2 95.8h0M449.2 86.9h0M466.4 95.8h0M440.5 96.6h0M470.4 92.9h0M455.9 90.8h0M445.9 98.7h0M481.9 93.6h0M450.8 97.2h0M449.0 96.9h0M460.0 87.6h0M441.6 92.6h0M460.1 94.5h0M464.1 85.6h0M456.8 89.7h0M453.0 94.7h0M442.6 91.8h0M440.7 94.4h0M443.7 90.4h0M454.1 89.5h0M463.1 89.6h0M460.2 94.5h0M442.0 91.8h0M443.9 91.1h0M449.4 102.7h0M447.9 101.4h0M456.3 86.0h0M429.6 96.6h0M432.7 96.8h0M462.0 95.1h0M450.0 91.7h0M454.5 91.4h0M446.8 91.0h0M463.3 89.7h0M455.7 86.9h0M445.1 85.7h0M450.1 96.6h0M455.0 90.4h0M457.9 91.2h0M455.6 94.5h0M457.2 79.8h0M439.4 97.1h0M449.7 90.1h0M466.5 96.0h0M470.4 95.7h0M450.0 96.9h0M444.4 90.6h0M446.6 91.8h0M459.5 90.4h0M455.1 90.3h0M460.5 78.3h0M450.0 93.9h0M441.6 98.4h0M454.1 99.8h0M461.3 96.4h0M450.6 87.2h0M449.9 90.6h0M454.4 90.5h0M481.5 84.5h0M463.4 90.5h0M449.7 97.9h0M452.0 86.6h0M456.0 92.0h0M432.1 94.1h0M441.8 89.0h0M456.7 94.6h0M456.1 89.7h0M454.3 92.4h0M430.7 84.6h0M438.6 104.0h0M450.2 91.5h0M446.5 98.2h0M452.3 102.1h0M459.6 101.7h0M450.9 95.0h0M447.8 92.1h0M435.3 89.9h0M442.8 89.5h0M463.7 94.4h0M463.8 97.6h0M460.9 98.3h0M446.2 97.3h0M448.9 90.2h0M463.5 104.5h0M442.6 102.2h0M460.0 88.5h0M454.6 95.0h0M455.6 91.1h0M439.6 93.2h0M460.3 97.2h0M458.4 98.8h0M442.4 92.8h0M455.3 98.3h0M453.5 95.7h0M453.3 104.1h0M431.0 92.9h0M475.9 94.2h0M434.4 93.7h0M438.2 89.4h0M454.2 102.1h0M456.5 96.5h0M461.8 94.1h0M443.7 92.5h0M455.2 91.5h0M445.6 91.1h0M437.5 87.6h0M451.1 91.1h0M452.4 100.4h0M454.9 92.8h0M440.7 87.3h0M455.6 88.4h0M456.1 87.3h0M453.3 92.6h0M461.6 90.9h0M448.4 94.3h0M452.5 101.9h0M449.5 90.2h0M448.9 95.5h0M454.3 96.7h0M469.7 92.8h0M440.4 93.8h0M456.0 81.2h0M452.1 85.2h0M456.4 100.3h0M461.9 85.0h0M465.3 97.8h0M448.5 95.7h0M466.6 91.2h0M451.8 90.0h0M463.1 81.6h0M465.7 87.9h0M460.9 84.4h0M443.0 89.8h0M460.0 84.4h0M457.8 89.6h0M463.9 91.4h0M456.7 92.1h0M469.3 91.1h0M451.8 103.5h0M452.7 96.6h0M444.9 94.1h0M430.2 93.6h0M445.8 85.0h0M438.4 99.0h0M456.1 85.0h0M469.5 89.3h0M448.5 94.3h0M441.1 84.4h0M444.8 99.3h0M461.2 84.6h0M463.6 93.2h0M456.8 93.3h0M456.0 87.7h0M443.3 89.3h0M448.5 96.3h0M440.3 101.4h0M445.9 89.9h0M458.8 95.3h0M448.7 87.3h0M442.4 84.5h0M463.0 98.7h0M470.0 95.6h0M455.2 97.0h0M461.2 91.6h0M455.4 104.4h0M435.7 85.6h0M442.7 97.0h0M463.4 91.2h0M458.5 92.7h0M454.9 90.1h0M451.7 93.0h0M434.5 95.8h0M452.0 98.1h0M462.2 97.1h0M459.8 88.0h0M435.6 101.8h0M478.7 97.3h0M430.5 96.5h0M452.2 103.2h0M447.3 97.2h0M463.3 91.5h0M456.8 97.5h0M479.5 94.0h0M447.5 103.5h0M429.4 100.7h0M466.3 95.1h0M452.4 99.0h0M478.6 98.6h0M470.2 84.7h0M445.2 86.7h0M482.2 101.8h0M434.5 95.8h0M460.0 84.9h0M449.1 98.9h0M463.8 89.6h0M471.0 89.8h0M458.1 92.4h0M483.7 97.0h0M473.5 97.5h0M448.4 103.3h0M467.9 97.8h0M442.4 87.2h0M459.9 100.5h0M472.8 90.9h0M434.3 94.3h0M477.8 87.2h0M469.6 87.4h0M444.4 85.1h0M443.6 91.7h0M483.0 103.2h0M437.0 90.2h0M481.7 87.9h0M444.9 92.8h0M432.4 89.2h0M449.2 91.7h0M482.9 89.3h0M438.0 102.2h0M452.6 100.7h0M463.6 99.6h0M444.6 87.0h0M470.7 93.4h0M459.0 97.4h0M470.4 89.5h0M447.4 102.3h0M457.2 89.8h0M463.2 89.2h0M471.5 84.8h0M474.8 95.3h0M446.9 102.8h0M441.7 88.9h0M430.1 95.0h0M470.5 97.6h0M450.4 100.2h0M432.6 90.1h0M464.0 103.3h0M463.4 97.8h0M476.2 83.0h0M489.3 96.2h0M442.0 82.9h0M478.7 81.3h0M429.7 101.1h0M457.0 87.8h0M467.9 102.3h0M425.6 80.9h0M420.2 83.7h0M454.7 100.4h0M467.8 90.0h0M446.9 89.8h0M436.6 100.1h0M477.3 99.9h0M426.9 93.5h0M474.6 87.0h0M486.0 102.2h0M473.7 99.2h0M466.3 101.4h0M425.4 94.8h0M470.6 91.3h0M436.7 70.6h0M462.7 99.3h0M436.6 76.1h0M432.7 71.6h0M468.4 105.0h0M478.4 81.7h0M470.3 70.7h0M481.2 80.4h0M415.3 91.9h0M426.0 78.5h0M419.7 84.9h0M458.8 98.7h0M418.1 99.4h0M423.7 76.5h0M464.7 80.9h0M441.2 89.6h0M432.2 98.2h0M431.5 99.9h0M478.9 88.4h0M417.4 97.6h0M417.2 87.2h0M448.5 70.4h0M464.8 95.5h0M461.2 83.2h0M455.5 90.4h0M432.9 101.0h0M493.7 98.6h0M490.9 80.5h0M492.9 70.7h0M452.8 73.1h0M450.9 93.9h0M471.0 85.3h0M442.0 75.2h0M446.8 78.7h0M430.3 96.0h0M455.8 84.7h0M430.6 94.7h0M430.5 78.1h0M459.3 94.6h0M481.0 97.3h0M478.7 97.0h0M478.7 85.8h0M477.1 87.7h0M481.4 94.4h0M479.2 93.2h0M478.9 87.1h0M480.1 93.2h0M480.0 85.6h0M478.9 87.3h0M477.4 95.5h0M481.0 90.9h0M479.5 87.0h0M479.3 95.1h0M492.2 96.8h0M496.2 93.1h0M492.3 93.6h0M489.2 80.1h0M493.1 87.7h0M489.9 82.8h0M488.2 95.3h0M494.4 96.0h0M496.8 86.3h0M494.6 85.3h0M495.3 94.0h0M489.2 78.2h0M489.9 89.1h0M491.4 78.2h0" stroke="#1a4a84" stroke-width="1.35" stroke-linecap="round" fill="none" opacity="1"/>
<path d="M399.2 70.2h0M401.4 49.2h0M399.5 50.5h0M399.0 63.2h0M401.2 71.2h0M401.2 79.0h0M397.2 92.3h0M398.8 66.1h0M399.9 53.3h0M399.1 57.0h0M400.6 78.8h0M397.6 82.3h0M397.6 83.2h0M396.9 49.7h0M399.7 80.6h0M397.1 82.7h0M396.8 81.6h0M401.1 70.6h0M400.9 77.0h0M401.9 50.1h0M397.2 58.4h0M405.9 66.6h0M397.9 78.7h0M402.3 84.1h0M397.9 95.8h0M396.8 87.1h0M397.5 59.0h0M396.7 93.5h0M397.4 93.5h0M401.2 78.9h0M398.7 54.7h0M397.7 47.9h0M396.6 95.7h0M398.0 82.5h0M398.7 55.1h0M401.9 72.6h0M400.9 91.5h0M400.0 92.8h0M402.7 74.8h0M396.6 88.1h0M401.0 76.7h0M396.6 87.0h0M397.4 74.3h0M397.0 61.5h0M396.8 84.2h0M396.7 48.2h0M399.3 69.9h0M401.6 53.1h0M397.8 68.5h0M398.3 52.5h0M400.5 64.6h0M397.1 51.7h0M397.3 89.4h0M402.7 52.1h0M398.3 85.1h0M398.5 54.4h0M403.5 85.4h0M402.0 47.3h0M397.9 81.6h0M397.2 76.9h0M400.0 67.4h0M396.9 77.6h0M400.7 83.6h0M402.2 86.8h0M401.7 82.8h0M399.7 48.5h0M399.1 68.5h0M402.2 90.9h0M399.8 69.1h0M403.4 82.3h0M396.5 64.4h0M399.2 63.2h0M399.4 96.0h0M398.4 79.7h0M401.4 88.8h0M398.7 96.7h0M396.5 59.5h0M399.1 67.6h0M398.8 91.3h0M396.8 93.0h0M399.1 85.7h0M401.3 91.5h0M397.6 52.2h0M400.3 88.3h0M398.3 65.4h0M400.6 73.9h0M398.4 73.5h0M396.9 79.5h0M403.8 67.4h0M398.3 92.7h0M399.6 51.5h0M404.3 57.6h0M398.1 47.7h0M403.3 60.0h0M398.6 55.8h0M406.0 68.9h0M398.4 84.3h0M401.0 84.7h0M396.5 48.4h0M399.0 81.6h0M397.1 95.2h0M398.9 79.2h0M400.4 76.9h0M399.0 81.7h0M396.9 50.3h0M397.6 47.7h0M397.6 52.6h0M397.9 71.7h0M401.3 60.7h0M397.4 85.5h0M397.1 62.2h0M397.8 67.4h0M397.8 83.4h0M399.7 51.7h0M399.2 88.6h0M397.4 92.2h0M399.6 93.7h0M406.2 83.2h0M400.2 45.6h0M399.2 96.6h0M398.8 82.6h0M403.8 82.7h0M399.1 53.2h0M398.1 101.0h0M401.4 82.2h0M403.6 57.7h0M397.7 45.8h0M406.8 52.4h0M408.1 65.7h0M405.3 52.9h0M406.1 59.3h0M401.2 74.8h0M398.3 59.2h0M406.2 61.3h0M401.4 88.6h0M399.6 56.1h0M399.5 66.9h0M401.2 81.6h0M402.4 94.6h0M397.6 82.8h0M406.6 58.4h0M397.3 70.0h0M398.3 71.2h0M405.2 50.3h0M398.4 72.3h0M399.0 58.2h0M402.1 51.7h0M397.8 65.6h0M402.4 98.4h0M403.4 49.1h0M512.0 59.2h0M512.2 89.0h0M511.7 93.3h0M512.3 92.4h0M512.0 73.1h0M512.2 88.8h0M512.4 58.8h0M512.5 91.5h0M512.4 70.2h0M512.2 69.8h0M512.0 63.6h0M512.4 65.6h0M512.8 54.5h0M512.7 57.3h0M512.2 49.5h0M511.9 50.1h0M511.8 70.6h0M512.2 59.8h0M511.7 72.0h0M511.7 55.7h0M511.8 86.0h0M512.8 88.4h0M512.0 65.9h0M512.4 59.4h0M512.1 76.5h0M512.3 59.0h0M512.1 50.7h0M512.0 57.8h0M512.3 83.5h0M511.4 67.5h0M511.7 80.2h0M513.2 59.7h0M512.3 70.9h0M511.2 71.6h0M512.1 94.6h0M512.0 87.4h0M512.0 58.3h0M512.6 59.4h0M512.2 93.2h0M512.0 64.8h0M512.6 79.8h0M512.6 56.5h0M512.3 87.1h0M512.7 60.9h0M512.2 69.9h0M511.6 55.3h0M512.0 60.1h0M512.9 55.9h0M512.9 55.3h0M511.7 89.8h0M512.1 51.6h0M512.2 75.9h0M512.4 69.8h0M511.5 79.4h0M512.7 88.6h0M512.5 92.3h0M512.1 67.8h0M513.0 53.8h0M512.5 49.8h0M512.1 93.5h0M507.3 99.2h0M505.5 98.2h0M508.7 96.3h0M508.1 65.2h0M506.1 71.0h0M507.8 96.0h0M505.3 100.4h0M508.4 63.4h0M511.5 100.4h0M508.8 91.1h0M510.7 71.5h0M512.0 83.6h0M506.3 90.5h0M502.9 88.1h0M507.7 81.2h0M507.0 60.4h0M502.2 81.4h0M508.0 89.1h0M503.3 68.1h0M501.5 70.5h0M509.6 79.4h0M508.2 78.4h0M511.3 103.3h0M508.7 93.1h0M509.7 76.2h0M506.8 65.7h0M503.0 70.0h0M511.4 61.6h0M507.5 66.1h0M506.9 63.5h0M508.7 86.2h0M504.5 76.0h0M509.5 91.7h0M508.8 81.7h0M510.9 60.8h0M510.8 76.6h0M509.1 103.3h0M511.2 88.9h0M500.2 88.6h0M507.8 68.8h0M510.9 97.0h0M507.8 87.1h0M504.7 86.5h0M501.8 68.9h0M504.5 92.7h0M511.7 72.3h0M511.9 67.8h0M512.2 91.3h0M507.8 71.9h0M512.4 92.0h0M511.2 65.1h0M512.4 102.1h0M508.9 75.1h0M511.8 83.5h0M509.6 81.5h0M506.4 71.6h0M509.9 67.3h0M511.6 64.1h0M505.4 71.8h0M505.4 95.6h0M511.7 82.1h0M506.6 68.5h0M505.0 62.3h0M508.9 66.9h0M510.2 92.3h0M506.5 70.3h0M509.1 64.2h0M501.3 86.4h0M508.8 96.2h0M503.0 95.6h0M512.2 89.9h0M509.6 85.4h0M509.8 86.2h0M509.3 64.9h0M509.3 71.6h0M508.9 79.1h0M502.3 61.4h0M510.3 92.6h0M511.5 88.8h0M430.0 57.5h0M430.0 59.5h0M456.2 57.7h0M457.2 59.2h0M469.7 65.4h0M474.9 67.1h0M481.0 67.5h0M477.0 66.0h0M483.8 66.2h0M501.0 42.0h0M413.0 92.0h0M415.0 83.6h0M400.5 41.3h0M511.5 105.8h0M510.0 48.0h0M508.0 49.0h0" stroke="#c20226" stroke-width="1.35" stroke-linecap="round" fill="none" opacity="1"/>
<text x="9.30" y="170.10" font-size="12" font-weight="bold" style="fill:#0a0a0a;stroke:#0a0a0a;stroke-width:0.15px;">B</text>
<text x="109.25" y="170.00" font-size="9.3" text-anchor="middle" textLength="24.5" lengthAdjust="spacingAndGlyphs">CTCL</text>
<line x1="97.00" y1="171.50" x2="121.50" y2="171.50" stroke="#3a3a3a" stroke-width="0.8"/>
<polygon points="109.7,275.3 109.7,255.3 111.5,251.5 113.2,248.3 117.6,243 122,236.8 126.4,231 130.8,228 135.1,224.5 140.4,218.4 145.7,214.9 151,211.4 156.2,207 158.9,202.6 160.6,195.5 161.5,192 162.1,191.2 162.1,275.3" fill="#c20226"/>
<line x1="56.20" y1="220.10" x2="162.20" y2="220.10" stroke="#2a2a2a" stroke-width="0.95" stroke-dasharray="1.3 1.4"/>
<line x1="56.20" y1="231.40" x2="162.20" y2="231.40" stroke="#2a2a2a" stroke-width="0.95" stroke-dasharray="1.3 1.4"/>
<line x1="56.20" y1="180.00" x2="56.20" y2="275.80" stroke="#2a2a2a" stroke-width="1.3"/>
<line x1="53.20" y1="257.30" x2="56.20" y2="257.30" stroke="#2a2a2a" stroke-width="1"/>
<text x="49.70" y="260.90" font-size="7.8" text-anchor="end">10<tspan font-size="5.15" dy="-3.43">1</tspan></text>
<line x1="53.20" y1="238.80" x2="56.20" y2="238.80" stroke="#2a2a2a" stroke-width="1"/>
<text x="49.70" y="242.40" font-size="7.8" text-anchor="end">10<tspan font-size="5.15" dy="-3.43">2</tspan></text>
<line x1="53.20" y1="220.30" x2="56.20" y2="220.30" stroke="#2a2a2a" stroke-width="1"/>
<text x="49.70" y="223.90" font-size="7.8" text-anchor="end">10<tspan font-size="5.15" dy="-3.43">3</tspan></text>
<line x1="53.20" y1="201.80" x2="56.20" y2="201.80" stroke="#2a2a2a" stroke-width="1"/>
<text x="49.70" y="205.40" font-size="7.8" text-anchor="end">10<tspan font-size="5.15" dy="-3.43">4</tspan></text>
<line x1="53.20" y1="183.30" x2="56.20" y2="183.30" stroke="#2a2a2a" stroke-width="1"/>
<text x="49.70" y="186.90" font-size="7.8" text-anchor="end">10<tspan font-size="5.15" dy="-3.43">5</tspan></text>
<line x1="54.60" y1="251.73" x2="56.20" y2="251.73" stroke="#2a2a2a" stroke-width="0.6"/>
<line x1="54.60" y1="248.47" x2="56.20" y2="248.47" stroke="#2a2a2a" stroke-width="0.6"/>
<line x1="54.60" y1="246.16" x2="56.20" y2="246.16" stroke="#2a2a2a" stroke-width="0.6"/>
<line x1="54.60" y1="244.37" x2="56.20" y2="244.37" stroke="#2a2a2a" stroke-width="0.6"/>
<line x1="54.60" y1="242.90" x2="56.20" y2="242.90" stroke="#2a2a2a" stroke-width="0.6"/>
<line x1="54.60" y1="241.67" x2="56.20" y2="241.67" stroke="#2a2a2a" stroke-width="0.6"/>
<line x1="54.60" y1="240.59" x2="56.20" y2="240.59" stroke="#2a2a2a" stroke-width="0.6"/>
<line x1="54.60" y1="239.65" x2="56.20" y2="239.65" stroke="#2a2a2a" stroke-width="0.6"/>
<line x1="54.60" y1="233.23" x2="56.20" y2="233.23" stroke="#2a2a2a" stroke-width="0.6"/>
<line x1="54.60" y1="229.97" x2="56.20" y2="229.97" stroke="#2a2a2a" stroke-width="0.6"/>
<line x1="54.60" y1="227.66" x2="56.20" y2="227.66" stroke="#2a2a2a" stroke-width="0.6"/>
<line x1="54.60" y1="225.87" x2="56.20" y2="225.87" stroke="#2a2a2a" stroke-width="0.6"/>
<line x1="54.60" y1="224.40" x2="56.20" y2="224.40" stroke="#2a2a2a" stroke-width="0.6"/>
<line x1="54.60" y1="223.17" x2="56.20" y2="223.17" stroke="#2a2a2a" stroke-width="0.6"/>
<line x1="54.60" y1="222.09" x2="56.20" y2="222.09" stroke="#2a2a2a" stroke-width="0.6"/>
<line x1="54.60" y1="221.15" x2="56.20" y2="221.15" stroke="#2a2a2a" stroke-width="0.6"/>
<line x1="54.60" y1="214.73" x2="56.20" y2="214.73" stroke="#2a2a2a" stroke-width="0.6"/>
<line x1="54.60" y1="211.47" x2="56.20" y2="211.47" stroke="#2a2a2a" stroke-width="0.6"/>
<line x1="54.60" y1="209.16" x2="56.20" y2="209.16" stroke="#2a2a2a" stroke-width="0.6"/>
<line x1="54.60" y1="207.37" x2="56.20" y2="207.37" stroke="#2a2a2a" stroke-width="0.6"/>
<line x1="54.60" y1="205.90" x2="56.20" y2="205.90" stroke="#2a2a2a" stroke-width="0.6"/>
<line x1="54.60" y1="204.67" x2="56.20" y2="204.67" stroke="#2a2a2a" stroke-width="0.6"/>
<line x1="54.60" y1="203.59" x2="56.20" y2="203.59" stroke="#2a2a2a" stroke-width="0.6"/>
<line x1="54.60" y1="202.65" x2="56.20" y2="202.65" stroke="#2a2a2a" stroke-width="0.6"/>
<line x1="54.60" y1="196.23" x2="56.20" y2="196.23" stroke="#2a2a2a" stroke-width="0.6"/>
<line x1="54.60" y1="192.97" x2="56.20" y2="192.97" stroke="#2a2a2a" stroke-width="0.6"/>
<line x1="54.60" y1="190.66" x2="56.20" y2="190.66" stroke="#2a2a2a" stroke-width="0.6"/>
<line x1="54.60" y1="188.87" x2="56.20" y2="188.87" stroke="#2a2a2a" stroke-width="0.6"/>
<line x1="54.60" y1="187.40" x2="56.20" y2="187.40" stroke="#2a2a2a" stroke-width="0.6"/>
<line x1="54.60" y1="186.17" x2="56.20" y2="186.17" stroke="#2a2a2a" stroke-width="0.6"/>
<line x1="54.60" y1="185.09" x2="56.20" y2="185.09" stroke="#2a2a2a" stroke-width="0.6"/>
<line x1="54.60" y1="184.15" x2="56.20" y2="184.15" stroke="#2a2a2a" stroke-width="0.6"/>
<line x1="54.60" y1="273.48" x2="56.20" y2="273.48" stroke="#2a2a2a" stroke-width="0.6"/>
<line x1="54.60" y1="271.66" x2="56.20" y2="271.66" stroke="#2a2a2a" stroke-width="0.6"/>
<line x1="54.60" y1="269.84" x2="56.20" y2="269.84" stroke="#2a2a2a" stroke-width="0.6"/>
<line x1="54.60" y1="268.02" x2="56.20" y2="268.02" stroke="#2a2a2a" stroke-width="0.6"/>
<line x1="54.60" y1="266.20" x2="56.20" y2="266.20" stroke="#2a2a2a" stroke-width="0.6"/>
<line x1="54.60" y1="264.38" x2="56.20" y2="264.38" stroke="#2a2a2a" stroke-width="0.6"/>
<line x1="54.60" y1="262.56" x2="56.20" y2="262.56" stroke="#2a2a2a" stroke-width="0.6"/>
<line x1="54.60" y1="260.74" x2="56.20" y2="260.74" stroke="#2a2a2a" stroke-width="0.6"/>
<line x1="54.60" y1="258.92" x2="56.20" y2="258.92" stroke="#2a2a2a" stroke-width="0.6"/>
<line x1="53.50" y1="275.30" x2="162.50" y2="275.30" stroke="#2a2a2a" stroke-width="1.3"/>
<text x="49.90" y="278.10" font-size="7.9" text-anchor="end">0</text>
<line x1="86.85" y1="275.30" x2="86.85" y2="278.00" stroke="#2a2a2a" stroke-width="1"/>
<text x="87.15" y="288.80" font-size="7.9" text-anchor="middle">100</text>
<line x1="117.50" y1="275.30" x2="117.50" y2="278.00" stroke="#2a2a2a" stroke-width="1"/>
<text x="117.80" y="288.80" font-size="7.9" text-anchor="middle">200</text>
<line x1="148.15" y1="275.30" x2="148.15" y2="278.00" stroke="#2a2a2a" stroke-width="1"/>
<text x="148.45" y="288.80" font-size="7.9" text-anchor="middle">300</text>
<text x="109.40" y="305.40" font-size="9" text-anchor="middle" textLength="30" lengthAdjust="spacingAndGlyphs">Samples</text>
<text x="77.30" y="200.60" font-size="7.6" text-anchor="middle" font-style="italic">B2</text>
<text x="77.30" y="227.70" font-size="7.6" text-anchor="middle" font-style="italic">B1</text>
<text x="77.30" y="256.20" font-size="7.6" text-anchor="middle" font-style="italic">B0</text>
<text x="16.60" y="229.40" font-size="8.6" text-anchor="middle" textLength="65.5" lengthAdjust="spacingAndGlyphs" transform="rotate(-90 16.60 229.40)">Clonal CD4<tspan font-size="5" dy="-3">+</tspan><tspan dy="3"> T-cells</tspan></text>
<text x="28.40" y="229.40" font-size="8.6" text-anchor="middle" textLength="54.5" lengthAdjust="spacingAndGlyphs" transform="rotate(-90 28.40 229.40)">(cells/µL blood)</text>
<text x="184.80" y="170.10" font-size="12" font-weight="bold" style="fill:#0a0a0a;stroke:#0a0a0a;stroke-width:0.15px;">C</text>
<text x="263.10" y="169.80" font-size="9.3" text-anchor="middle" textLength="49.599999999999966" lengthAdjust="spacingAndGlyphs">All samples</text>
<line x1="238.30" y1="171.30" x2="287.90" y2="171.30" stroke="#3a3a3a" stroke-width="0.8"/>
<rect x="227.40" y="184.40" width="12.40" height="76.00" fill="#c7c4ca"/>
<rect x="246.80" y="257.36" width="12.40" height="3.04" fill="#adc085"/>
<rect x="246.80" y="184.40" width="12.40" height="72.96" fill="#c7c4ca"/>
<rect x="266.20" y="249.38" width="12.40" height="11.02" fill="#adc085"/>
<rect x="266.20" y="243.45" width="12.40" height="5.93" fill="#3aa935"/>
<rect x="266.20" y="236.08" width="12.40" height="7.37" fill="#0f6b4f"/>
<rect x="266.20" y="184.40" width="12.40" height="51.68" fill="#c7c4ca"/>
<rect x="285.60" y="249.00" width="12.40" height="11.40" fill="#adc085"/>
<rect x="285.60" y="231.90" width="12.40" height="17.10" fill="#3aa935"/>
<rect x="285.60" y="196.18" width="12.40" height="35.72" fill="#0f6b4f"/>
<rect x="285.60" y="184.40" width="12.40" height="11.78" fill="#c7c4ca"/>
<line x1="221.00" y1="181.40" x2="221.00" y2="260.90" stroke="#2a2a2a" stroke-width="1.3"/>
<line x1="218.00" y1="260.40" x2="221.00" y2="260.40" stroke="#2a2a2a" stroke-width="1"/>
<line x1="219.40" y1="252.80" x2="221.00" y2="252.80" stroke="#2a2a2a" stroke-width="0.6"/>
<line x1="219.40" y1="245.20" x2="221.00" y2="245.20" stroke="#2a2a2a" stroke-width="0.6"/>
<line x1="219.40" y1="237.60" x2="221.00" y2="237.60" stroke="#2a2a2a" stroke-width="0.6"/>
<line x1="219.40" y1="230.00" x2="221.00" y2="230.00" stroke="#2a2a2a" stroke-width="0.6"/>
<line x1="218.00" y1="222.40" x2="221.00" y2="222.40" stroke="#2a2a2a" stroke-width="1"/>
<line x1="219.40" y1="214.80" x2="221.00" y2="214.80" stroke="#2a2a2a" stroke-width="0.6"/>
<line x1="219.40" y1="207.20" x2="221.00" y2="207.20" stroke="#2a2a2a" stroke-width="0.6"/>
<line x1="219.40" y1="199.60" x2="221.00" y2="199.60" stroke="#2a2a2a" stroke-width="0.6"/>
<line x1="219.40" y1="192.00" x2="221.00" y2="192.00" stroke="#2a2a2a" stroke-width="0.6"/>
<line x1="218.00" y1="184.40" x2="221.00" y2="184.40" stroke="#2a2a2a" stroke-width="1"/>
<text x="214.80" y="263.30" font-size="8.2" text-anchor="end">0</text>
<text x="214.80" y="225.30" font-size="8.2" text-anchor="end">50</text>
<text x="214.80" y="187.30" font-size="8.2" text-anchor="end">100</text>
<line x1="219.50" y1="260.40" x2="305.00" y2="260.40" stroke="#2a2a2a" stroke-width="1.3"/>
<line x1="233.60" y1="260.40" x2="233.60" y2="263.20" stroke="#2a2a2a" stroke-width="1"/>
<line x1="253.00" y1="260.40" x2="253.00" y2="263.20" stroke="#2a2a2a" stroke-width="1"/>
<line x1="272.40" y1="260.40" x2="272.40" y2="263.20" stroke="#2a2a2a" stroke-width="1"/>
<line x1="291.80" y1="260.40" x2="291.80" y2="263.20" stroke="#2a2a2a" stroke-width="1"/>
<text x="191.30" y="222.50" font-size="9" text-anchor="middle" textLength="46" lengthAdjust="spacingAndGlyphs" transform="rotate(-90 191.30 222.50)">% of samples</text>
<text x="236.30" y="270.30" font-size="8.2" text-anchor="end" textLength="56" lengthAdjust="spacingAndGlyphs" transform="rotate(-45 236.30 270.30)">Healthy donors</text>
<text x="255.70" y="270.30" font-size="8.2" text-anchor="end" textLength="95" lengthAdjust="spacingAndGlyphs" transform="rotate(-45 255.70 270.30)">Inflammatory dermatoses</text>
<text x="275.10" y="270.30" font-size="8.2" text-anchor="end" textLength="68.5" lengthAdjust="spacingAndGlyphs" transform="rotate(-45 275.10 270.30)">Mycosis fungoides</text>
<text x="294.50" y="270.30" font-size="8.2" text-anchor="end" textLength="64" lengthAdjust="spacingAndGlyphs" transform="rotate(-45 294.50 270.30)">Sézary syndrome</text>
<rect x="305.20" y="196.40" width="6.90" height="4.40" fill="#c7c4ca"/>
<text x="315.30" y="201.20" font-size="7.6" textLength="30.5" lengthAdjust="spacingAndGlyphs">No clone</text>
<rect x="305.20" y="204.75" width="6.90" height="4.40" fill="#adc085"/>
<text x="315.30" y="209.55" font-size="7.6" textLength="31" lengthAdjust="spacingAndGlyphs">Clone B0</text>
<rect x="305.20" y="213.10" width="6.90" height="4.40" fill="#3aa935"/>
<text x="315.30" y="217.90" font-size="7.6" textLength="31" lengthAdjust="spacingAndGlyphs">Clone B1</text>
<rect x="305.20" y="221.45" width="6.90" height="4.40" fill="#0f6b4f"/>
<text x="315.30" y="226.25" font-size="7.6" textLength="31" lengthAdjust="spacingAndGlyphs">Clone B2</text>
<text x="366.70" y="169.90" font-size="12" font-weight="bold" style="fill:#0a0a0a;stroke:#0a0a0a;stroke-width:0.15px;">D</text>
<text x="456.10" y="170.00" font-size="9.3" text-anchor="middle" textLength="23.80000000000001" lengthAdjust="spacingAndGlyphs">CTCL</text>
<line x1="444.20" y1="171.50" x2="468.00" y2="171.50" stroke="#3a3a3a" stroke-width="0.8"/>
<rect x="410.30" y="196.50" width="11.90" height="78.80" fill="#c20226"/>
<rect x="426.30" y="220.50" width="11.90" height="54.80" fill="#c20226"/>
<rect x="442.20" y="254.37" width="11.90" height="20.93" fill="#c20226"/>
<rect x="458.00" y="267.30" width="11.90" height="8.00" fill="#c20226"/>
<rect x="474.00" y="269.51" width="11.90" height="5.79" fill="#c20226"/>
<rect x="490.00" y="274.11" width="11.90" height="1.19" fill="#c20226"/>
<line x1="405.80" y1="187.20" x2="405.80" y2="275.80" stroke="#2a2a2a" stroke-width="1.3"/>
<line x1="402.80" y1="275.30" x2="405.80" y2="275.30" stroke="#2a2a2a" stroke-width="1"/>
<text x="400.90" y="278.20" font-size="8.3" text-anchor="end">0</text>
<line x1="402.80" y1="258.28" x2="405.80" y2="258.28" stroke="#2a2a2a" stroke-width="1"/>
<text x="400.90" y="261.18" font-size="8.3" text-anchor="end">10</text>
<line x1="402.80" y1="241.26" x2="405.80" y2="241.26" stroke="#2a2a2a" stroke-width="1"/>
<text x="400.90" y="244.16" font-size="8.3" text-anchor="end">20</text>
<line x1="402.80" y1="224.24" x2="405.80" y2="224.24" stroke="#2a2a2a" stroke-width="1"/>
<text x="400.90" y="227.14" font-size="8.3" text-anchor="end">30</text>
<line x1="402.80" y1="207.22" x2="405.80" y2="207.22" stroke="#2a2a2a" stroke-width="1"/>
<text x="400.90" y="210.12" font-size="8.3" text-anchor="end">40</text>
<line x1="402.80" y1="190.20" x2="405.80" y2="190.20" stroke="#2a2a2a" stroke-width="1"/>
<text x="400.90" y="193.10" font-size="8.3" text-anchor="end">50</text>
<line x1="405.80" y1="275.30" x2="506.70" y2="275.30" stroke="#2a2a2a" stroke-width="1.3"/>
<line x1="416.25" y1="275.30" x2="416.25" y2="278.10" stroke="#2a2a2a" stroke-width="1"/>
<text x="416.25" y="288.70" font-size="7.9" text-anchor="middle">1</text>
<line x1="432.25" y1="275.30" x2="432.25" y2="278.10" stroke="#2a2a2a" stroke-width="1"/>
<text x="432.25" y="288.70" font-size="7.9" text-anchor="middle">2</text>
<line x1="448.15" y1="275.30" x2="448.15" y2="278.10" stroke="#2a2a2a" stroke-width="1"/>
<text x="448.15" y="288.70" font-size="7.9" text-anchor="middle">3</text>
<line x1="463.95" y1="275.30" x2="463.95" y2="278.10" stroke="#2a2a2a" stroke-width="1"/>
<text x="463.95" y="288.70" font-size="7.9" text-anchor="middle">4</text>
<line x1="479.95" y1="275.30" x2="479.95" y2="278.10" stroke="#2a2a2a" stroke-width="1"/>
<text x="479.95" y="288.70" font-size="7.9" text-anchor="middle">5</text>
<line x1="495.95" y1="275.30" x2="495.95" y2="278.10" stroke="#2a2a2a" stroke-width="1"/>
<text x="495.95" y="288.70" font-size="7.9" text-anchor="middle">6</text>
<text x="456.60" y="305.20" font-size="9" text-anchor="middle" textLength="88" lengthAdjust="spacingAndGlyphs">Number of clonal clusters</text>
<text x="381.40" y="233.40" font-size="9" text-anchor="middle" textLength="76" lengthAdjust="spacingAndGlyphs" transform="rotate(-90 381.40 233.40)">% of positive samples</text>
<text x="9.30" y="361.40" font-size="12" font-weight="bold" style="fill:#0a0a0a;stroke:#0a0a0a;stroke-width:0.15px;">E</text>
<text x="115.70" y="360.60" font-size="9.3" text-anchor="middle" textLength="23.599999999999994" lengthAdjust="spacingAndGlyphs">CTCL</text>
<line x1="103.90" y1="362.10" x2="127.50" y2="362.10" stroke="#3a3a3a" stroke-width="0.8"/>
<line x1="113.80" y1="379.00" x2="113.80" y2="493.50" stroke="#2a2a2a" stroke-width="0.95" stroke-dasharray="1.3 1.4"/>
<line x1="126.80" y1="379.00" x2="126.80" y2="493.50" stroke="#2a2a2a" stroke-width="0.95" stroke-dasharray="1.3 1.4"/>
<line x1="56.20" y1="422.70" x2="170.20" y2="422.70" stroke="#2a2a2a" stroke-width="0.95" stroke-dasharray="1.3 1.4"/>
<line x1="56.20" y1="435.50" x2="170.20" y2="435.50" stroke="#2a2a2a" stroke-width="0.95" stroke-dasharray="1.3 1.4"/>
<line x1="58.00" y1="492.00" x2="167.50" y2="381.20" stroke="#333" stroke-width="1.05" stroke-dasharray="0.01 2.7" stroke-linecap="round"/>
<defs><linearGradient id="strip" x1="0" y1="0" x2="0" y2="1"><stop offset="0" stop-color="#b9c6da"/><stop offset="0.2" stop-color="#7b96bf"/><stop offset="0.25" stop-color="#1f4f8e"/><stop offset="0.7" stop-color="#1f4f8e"/><stop offset="0.9" stop-color="#8ea6c9"/><stop offset="1" stop-color="#c6d0e0"/></linearGradient></defs>
<rect x="59.8" y="423.6" width="3.1" height="46" rx="1.4" fill="url(#strip)"/>
<g fill="#c3cddd" stroke="#a9b7cc" stroke-width="0.4">
<circle cx="61.3" cy="473" r="1.1"/>
<circle cx="61.3" cy="478.5" r="1.1"/>
</g>
<g fill="#c9d6e8" fill-opacity="0.5" stroke="#7f9cc4" stroke-width="0.45">
<circle cx="97.5" cy="444.4" r="1.25"/>
<circle cx="95.9" cy="443.8" r="1.25"/>
<circle cx="89.5" cy="441.6" r="1.25"/>
<circle cx="96.9" cy="442.4" r="1.25"/>
<circle cx="87.8" cy="443.8" r="1.25"/>
<circle cx="99.2" cy="444.2" r="1.25"/>
<circle cx="103.1" cy="439.3" r="1.25"/>
<circle cx="99.7" cy="441.8" r="1.25"/>
<circle cx="98.1" cy="444.4" r="1.25"/>
<circle cx="84.2" cy="441.7" r="1.25"/>
<circle cx="84.0" cy="441.9" r="1.25"/>
<circle cx="93.8" cy="445.6" r="1.25"/>
<circle cx="101.4" cy="446.8" r="1.25"/>
<circle cx="92.7" cy="442.9" r="1.25"/>
<circle cx="93.6" cy="443.6" r="1.25"/>
<circle cx="93.9" cy="440.1" r="1.25"/>
<circle cx="94.1" cy="445.3" r="1.25"/>
<circle cx="99.3" cy="443.2" r="1.25"/>
<circle cx="91.1" cy="443.0" r="1.25"/>
<circle cx="93.2" cy="442.4" r="1.25"/>
<circle cx="87.7" cy="445.9" r="1.25"/>
<circle cx="89.7" cy="438.9" r="1.25"/>
<circle cx="99.2" cy="443.0" r="1.25"/>
<circle cx="90.8" cy="437.5" r="1.25"/>
<circle cx="102.6" cy="444.2" r="1.25"/>
<circle cx="96.0" cy="444.5" r="1.25"/>
<circle cx="89.0" cy="429.2" r="1.25"/>
<circle cx="85.4" cy="454.5" r="1.25"/>
<circle cx="84.1" cy="458.4" r="1.25"/>
<circle cx="93.9" cy="450.0" r="1.25"/>
<circle cx="97.7" cy="433.1" r="1.25"/>
<circle cx="101.6" cy="435.0" r="1.25"/>
<circle cx="110.6" cy="429.0" r="1.25"/>
<circle cx="127.1" cy="434.8" r="1.25"/>
<circle cx="90.0" cy="447.0" r="1.25"/>
<circle cx="95.0" cy="446.0" r="1.25"/>
</g>
<g fill="#6d8fbf" fill-opacity="0.35" stroke="#3d6aa5" stroke-width="0.3">
<circle cx="132.0" cy="417.9" r="1.2"/>
<circle cx="116.3" cy="435.5" r="1.2"/>
<circle cx="144.0" cy="405.8" r="1.2"/>
<circle cx="109.7" cy="438.9" r="1.2"/>
<circle cx="117.2" cy="432.6" r="1.2"/>
<circle cx="107.0" cy="442.7" r="1.2"/>
<circle cx="123.2" cy="424.9" r="1.2"/>
<circle cx="107.8" cy="441.7" r="1.2"/>
<circle cx="146.4" cy="403.1" r="1.2"/>
<circle cx="106.3" cy="443.1" r="1.2"/>
<circle cx="109.9" cy="441.1" r="1.2"/>
<circle cx="108.7" cy="441.4" r="1.2"/>
<circle cx="127.4" cy="422.3" r="1.2"/>
<circle cx="140.7" cy="408.9" r="1.2"/>
<circle cx="137.7" cy="412.1" r="1.2"/>
<circle cx="122.7" cy="426.6" r="1.2"/>
<circle cx="114.7" cy="435.3" r="1.2"/>
<circle cx="146.8" cy="402.9" r="1.2"/>
<circle cx="136.6" cy="413.2" r="1.2"/>
<circle cx="143.2" cy="406.8" r="1.2"/>
<circle cx="146.1" cy="402.7" r="1.2"/>
<circle cx="130.6" cy="418.6" r="1.2"/>
<circle cx="135.5" cy="414.7" r="1.2"/>
<circle cx="136.3" cy="413.4" r="1.2"/>
<circle cx="146.2" cy="403.5" r="1.2"/>
<circle cx="108.7" cy="441.3" r="1.2"/>
<circle cx="114.9" cy="434.0" r="1.2"/>
<circle cx="115.2" cy="432.0" r="1.2"/>
<circle cx="110.5" cy="439.6" r="1.2"/>
<circle cx="141.6" cy="407.5" r="1.2"/>
<circle cx="136.8" cy="413.0" r="1.2"/>
<circle cx="119.0" cy="430.9" r="1.2"/>
<circle cx="140.2" cy="409.9" r="1.2"/>
<circle cx="142.0" cy="407.2" r="1.2"/>
<circle cx="137.6" cy="411.7" r="1.2"/>
<circle cx="130.7" cy="420.3" r="1.2"/>
<circle cx="118.4" cy="430.0" r="1.2"/>
<circle cx="141.3" cy="408.2" r="1.2"/>
<circle cx="120.1" cy="428.9" r="1.2"/>
<circle cx="120.5" cy="428.6" r="1.2"/>
<circle cx="108.9" cy="441.5" r="1.2"/>
<circle cx="114.0" cy="436.3" r="1.2"/>
<circle cx="132.0" cy="417.0" r="1.2"/>
<circle cx="143.0" cy="406.3" r="1.2"/>
<circle cx="144.5" cy="404.2" r="1.2"/>
<circle cx="139.4" cy="411.2" r="1.2"/>
<circle cx="137.2" cy="412.1" r="1.2"/>
<circle cx="139.8" cy="409.5" r="1.2"/>
<circle cx="120.7" cy="430.0" r="1.2"/>
<circle cx="140.9" cy="409.0" r="1.2"/>
<circle cx="118.8" cy="431.5" r="1.2"/>
<circle cx="140.1" cy="408.3" r="1.2"/>
<circle cx="141.3" cy="409.3" r="1.2"/>
<circle cx="142.7" cy="407.8" r="1.2"/>
<circle cx="136.7" cy="414.1" r="1.2"/>
<circle cx="133.8" cy="415.5" r="1.2"/>
<circle cx="142.3" cy="406.8" r="1.2"/>
<circle cx="128.1" cy="420.7" r="1.2"/>
<circle cx="138.4" cy="411.1" r="1.2"/>
<circle cx="138.4" cy="411.3" r="1.2"/>
<circle cx="119.0" cy="430.2" r="1.2"/>
<circle cx="115.0" cy="435.2" r="1.2"/>
<circle cx="105.1" cy="445.0" r="1.2"/>
<circle cx="139.0" cy="410.3" r="1.2"/>
<circle cx="107.0" cy="443.0" r="1.2"/>
<circle cx="136.6" cy="413.0" r="1.2"/>
<circle cx="121.7" cy="428.7" r="1.2"/>
<circle cx="139.3" cy="410.7" r="1.2"/>
<circle cx="131.8" cy="417.4" r="1.2"/>
<circle cx="143.4" cy="404.2" r="1.2"/>
<circle cx="136.3" cy="413.4" r="1.2"/>
<circle cx="117.7" cy="432.6" r="1.2"/>
<circle cx="108.7" cy="440.3" r="1.2"/>
<circle cx="129.8" cy="420.1" r="1.2"/>
<circle cx="125.3" cy="423.3" r="1.2"/>
<circle cx="122.3" cy="428.1" r="1.2"/>
<circle cx="113.1" cy="435.7" r="1.2"/>
<circle cx="119.9" cy="428.3" r="1.2"/>
<circle cx="134.6" cy="416.3" r="1.2"/>
<circle cx="109.5" cy="440.4" r="1.2"/>
<circle cx="151.9" cy="396.9" r="1.2"/>
<circle cx="150.3" cy="398.5" r="1.2"/>
<circle cx="146.9" cy="401.2" r="1.2"/>
<circle cx="151.2" cy="398.4" r="1.2"/>
<circle cx="149.6" cy="398.0" r="1.2"/>
<circle cx="148.2" cy="400.7" r="1.2"/>
<circle cx="148.2" cy="399.2" r="1.2"/>
<circle cx="154.8" cy="395.1" r="1.2"/>
<circle cx="149.8" cy="399.1" r="1.2"/>
<circle cx="153.1" cy="396.4" r="1.2"/>
</g>
<path d="M132.0 417.9h0M144.0 405.8h0M117.2 432.6h0M123.2 424.9h0M146.4 403.1h0M109.9 441.1h0M127.4 422.3h0M137.7 412.1h0M114.7 435.3h0M136.6 413.2h0M146.1 402.7h0M135.5 414.7h0M146.2 403.5h0M114.9 434.0h0M110.5 439.6h0M136.8 413.0h0M140.2 409.9h0M137.6 411.7h0M118.4 430.0h0M120.1 428.9h0M108.9 441.5h0M132.0 417.0h0M144.5 404.2h0M137.2 412.1h0M120.7 430.0h0M118.8 431.5h0M141.3 409.3h0M136.7 414.1h0M142.3 406.8h0M138.4 411.1h0M119.0 430.2h0M105.1 445.0h0M107.0 443.0h0M121.7 428.7h0M131.8 417.4h0M136.3 413.4h0M108.7 440.3h0M125.3 423.3h0M113.1 435.7h0M134.6 416.3h0" stroke="#1d4a85" stroke-width="0.9" stroke-linecap="round" fill="none" opacity="0.75"/>
<line x1="56.20" y1="376.50" x2="56.20" y2="488.30" stroke="#2a2a2a" stroke-width="1.3"/>
<line x1="53.20" y1="466.40" x2="56.20" y2="466.40" stroke="#2a2a2a" stroke-width="1"/>
<text x="49.70" y="469.70" font-size="7.8" text-anchor="end">10<tspan font-size="5.15" dy="-3.43">1</tspan></text>
<line x1="53.20" y1="444.65" x2="56.20" y2="444.65" stroke="#2a2a2a" stroke-width="1"/>
<text x="49.70" y="447.95" font-size="7.8" text-anchor="end">10<tspan font-size="5.15" dy="-3.43">2</tspan></text>
<line x1="53.20" y1="422.90" x2="56.20" y2="422.90" stroke="#2a2a2a" stroke-width="1"/>
<text x="49.70" y="426.20" font-size="7.8" text-anchor="end">10<tspan font-size="5.15" dy="-3.43">3</tspan></text>
<line x1="53.20" y1="401.15" x2="56.20" y2="401.15" stroke="#2a2a2a" stroke-width="1"/>
<text x="49.70" y="404.45" font-size="7.8" text-anchor="end">10<tspan font-size="5.15" dy="-3.43">4</tspan></text>
<line x1="53.20" y1="379.40" x2="56.20" y2="379.40" stroke="#2a2a2a" stroke-width="1"/>
<text x="49.70" y="382.70" font-size="7.8" text-anchor="end">10<tspan font-size="5.15" dy="-3.43">5</tspan></text>
<line x1="54.60" y1="459.85" x2="56.20" y2="459.85" stroke="#2a2a2a" stroke-width="0.6"/>
<line x1="54.60" y1="456.02" x2="56.20" y2="456.02" stroke="#2a2a2a" stroke-width="0.6"/>
<line x1="54.60" y1="453.31" x2="56.20" y2="453.31" stroke="#2a2a2a" stroke-width="0.6"/>
<line x1="54.60" y1="451.20" x2="56.20" y2="451.20" stroke="#2a2a2a" stroke-width="0.6"/>
<line x1="54.60" y1="449.48" x2="56.20" y2="449.48" stroke="#2a2a2a" stroke-width="0.6"/>
<line x1="54.60" y1="448.02" x2="56.20" y2="448.02" stroke="#2a2a2a" stroke-width="0.6"/>
<line x1="54.60" y1="446.76" x2="56.20" y2="446.76" stroke="#2a2a2a" stroke-width="0.6"/>
<line x1="54.60" y1="445.65" x2="56.20" y2="445.65" stroke="#2a2a2a" stroke-width="0.6"/>
<line x1="54.60" y1="438.10" x2="56.20" y2="438.10" stroke="#2a2a2a" stroke-width="0.6"/>
<line x1="54.60" y1="434.27" x2="56.20" y2="434.27" stroke="#2a2a2a" stroke-width="0.6"/>
<line x1="54.60" y1="431.56" x2="56.20" y2="431.56" stroke="#2a2a2a" stroke-width="0.6"/>
<line x1="54.60" y1="429.45" x2="56.20" y2="429.45" stroke="#2a2a2a" stroke-width="0.6"/>
<line x1="54.60" y1="427.73" x2="56.20" y2="427.73" stroke="#2a2a2a" stroke-width="0.6"/>
<line x1="54.60" y1="426.27" x2="56.20" y2="426.27" stroke="#2a2a2a" stroke-width="0.6"/>
<line x1="54.60" y1="425.01" x2="56.20" y2="425.01" stroke="#2a2a2a" stroke-width="0.6"/>
<line x1="54.60" y1="423.90" x2="56.20" y2="423.90" stroke="#2a2a2a" stroke-width="0.6"/>
<line x1="54.60" y1="416.35" x2="56.20" y2="416.35" stroke="#2a2a2a" stroke-width="0.6"/>
<line x1="54.60" y1="412.52" x2="56.20" y2="412.52" stroke="#2a2a2a" stroke-width="0.6"/>
<line x1="54.60" y1="409.81" x2="56.20" y2="409.81" stroke="#2a2a2a" stroke-width="0.6"/>
<line x1="54.60" y1="407.70" x2="56.20" y2="407.70" stroke="#2a2a2a" stroke-width="0.6"/>
<line x1="54.60" y1="405.98" x2="56.20" y2="405.98" stroke="#2a2a2a" stroke-width="0.6"/>
<line x1="54.60" y1="404.52" x2="56.20" y2="404.52" stroke="#2a2a2a" stroke-width="0.6"/>
<line x1="54.60" y1="403.26" x2="56.20" y2="403.26" stroke="#2a2a2a" stroke-width="0.6"/>
<line x1="54.60" y1="402.15" x2="56.20" y2="402.15" stroke="#2a2a2a" stroke-width="0.6"/>
<line x1="54.60" y1="394.60" x2="56.20" y2="394.60" stroke="#2a2a2a" stroke-width="0.6"/>
<line x1="54.60" y1="390.77" x2="56.20" y2="390.77" stroke="#2a2a2a" stroke-width="0.6"/>
<line x1="54.60" y1="388.06" x2="56.20" y2="388.06" stroke="#2a2a2a" stroke-width="0.6"/>
<line x1="54.60" y1="385.95" x2="56.20" y2="385.95" stroke="#2a2a2a" stroke-width="0.6"/>
<line x1="54.60" y1="384.23" x2="56.20" y2="384.23" stroke="#2a2a2a" stroke-width="0.6"/>
<line x1="54.60" y1="382.77" x2="56.20" y2="382.77" stroke="#2a2a2a" stroke-width="0.6"/>
<line x1="54.60" y1="381.51" x2="56.20" y2="381.51" stroke="#2a2a2a" stroke-width="0.6"/>
<line x1="54.60" y1="380.40" x2="56.20" y2="380.40" stroke="#2a2a2a" stroke-width="0.6"/>
<line x1="54.60" y1="485.57" x2="56.20" y2="485.57" stroke="#2a2a2a" stroke-width="0.6"/>
<line x1="54.60" y1="483.44" x2="56.20" y2="483.44" stroke="#2a2a2a" stroke-width="0.6"/>
<line x1="54.60" y1="481.31" x2="56.20" y2="481.31" stroke="#2a2a2a" stroke-width="0.6"/>
<line x1="54.60" y1="479.18" x2="56.20" y2="479.18" stroke="#2a2a2a" stroke-width="0.6"/>
<line x1="54.60" y1="477.05" x2="56.20" y2="477.05" stroke="#2a2a2a" stroke-width="0.6"/>
<line x1="54.60" y1="474.92" x2="56.20" y2="474.92" stroke="#2a2a2a" stroke-width="0.6"/>
<line x1="54.60" y1="472.79" x2="56.20" y2="472.79" stroke="#2a2a2a" stroke-width="0.6"/>
<line x1="54.60" y1="470.66" x2="56.20" y2="470.66" stroke="#2a2a2a" stroke-width="0.6"/>
<line x1="54.60" y1="468.53" x2="56.20" y2="468.53" stroke="#2a2a2a" stroke-width="0.6"/>
<line x1="53.20" y1="487.70" x2="56.20" y2="487.70" stroke="#2a2a2a" stroke-width="1"/>
<text x="49.90" y="490.50" font-size="7.9" text-anchor="end">0</text>
<line x1="60.50" y1="493.70" x2="173.00" y2="493.70" stroke="#2a2a2a" stroke-width="1.3"/>
<line x1="61.00" y1="493.70" x2="61.00" y2="496.50" stroke="#2a2a2a" stroke-width="1"/>
<text x="61.00" y="508.50" font-size="7.9" text-anchor="middle">0</text>
<line x1="84.20" y1="493.70" x2="84.20" y2="496.50" stroke="#2a2a2a" stroke-width="1"/>
<text x="84.40" y="508.80" font-size="7.8" text-anchor="middle">10<tspan font-size="5.15" dy="-3.43">1</tspan></text>
<line x1="105.50" y1="493.70" x2="105.50" y2="496.50" stroke="#2a2a2a" stroke-width="1"/>
<text x="105.70" y="508.80" font-size="7.8" text-anchor="middle">10<tspan font-size="5.15" dy="-3.43">2</tspan></text>
<line x1="126.80" y1="493.70" x2="126.80" y2="496.50" stroke="#2a2a2a" stroke-width="1"/>
<text x="127.00" y="508.80" font-size="7.8" text-anchor="middle">10<tspan font-size="5.15" dy="-3.43">3</tspan></text>
<line x1="148.10" y1="493.70" x2="148.10" y2="496.50" stroke="#2a2a2a" stroke-width="1"/>
<text x="148.30" y="508.80" font-size="7.8" text-anchor="middle">10<tspan font-size="5.15" dy="-3.43">4</tspan></text>
<line x1="169.40" y1="493.70" x2="169.40" y2="496.50" stroke="#2a2a2a" stroke-width="1"/>
<text x="169.60" y="508.80" font-size="7.8" text-anchor="middle">10<tspan font-size="5.15" dy="-3.43">5</tspan></text>
<line x1="90.61" y1="493.70" x2="90.61" y2="495.30" stroke="#2a2a2a" stroke-width="0.6"/>
<line x1="94.36" y1="493.70" x2="94.36" y2="495.30" stroke="#2a2a2a" stroke-width="0.6"/>
<line x1="97.02" y1="493.70" x2="97.02" y2="495.30" stroke="#2a2a2a" stroke-width="0.6"/>
<line x1="99.09" y1="493.70" x2="99.09" y2="495.30" stroke="#2a2a2a" stroke-width="0.6"/>
<line x1="100.77" y1="493.70" x2="100.77" y2="495.30" stroke="#2a2a2a" stroke-width="0.6"/>
<line x1="102.20" y1="493.70" x2="102.20" y2="495.30" stroke="#2a2a2a" stroke-width="0.6"/>
<line x1="103.44" y1="493.70" x2="103.44" y2="495.30" stroke="#2a2a2a" stroke-width="0.6"/>
<line x1="104.53" y1="493.70" x2="104.53" y2="495.30" stroke="#2a2a2a" stroke-width="0.6"/>
<line x1="111.91" y1="493.70" x2="111.91" y2="495.30" stroke="#2a2a2a" stroke-width="0.6"/>
<line x1="115.66" y1="493.70" x2="115.66" y2="495.30" stroke="#2a2a2a" stroke-width="0.6"/>
<line x1="118.32" y1="493.70" x2="118.32" y2="495.30" stroke="#2a2a2a" stroke-width="0.6"/>
<line x1="120.39" y1="493.70" x2="120.39" y2="495.30" stroke="#2a2a2a" stroke-width="0.6"/>
<line x1="122.07" y1="493.70" x2="122.07" y2="495.30" stroke="#2a2a2a" stroke-width="0.6"/>
<line x1="123.50" y1="493.70" x2="123.50" y2="495.30" stroke="#2a2a2a" stroke-width="0.6"/>
<line x1="124.74" y1="493.70" x2="124.74" y2="495.30" stroke="#2a2a2a" stroke-width="0.6"/>
<line x1="125.83" y1="493.70" x2="125.83" y2="495.30" stroke="#2a2a2a" stroke-width="0.6"/>
<line x1="133.21" y1="493.70" x2="133.21" y2="495.30" stroke="#2a2a2a" stroke-width="0.6"/>
<line x1="136.96" y1="493.70" x2="136.96" y2="495.30" stroke="#2a2a2a" stroke-width="0.6"/>
<line x1="139.62" y1="493.70" x2="139.62" y2="495.30" stroke="#2a2a2a" stroke-width="0.6"/>
<line x1="141.69" y1="493.70" x2="141.69" y2="495.30" stroke="#2a2a2a" stroke-width="0.6"/>
<line x1="143.37" y1="493.70" x2="143.37" y2="495.30" stroke="#2a2a2a" stroke-width="0.6"/>
<line x1="144.80" y1="493.70" x2="144.80" y2="495.30" stroke="#2a2a2a" stroke-width="0.6"/>
<line x1="146.04" y1="493.70" x2="146.04" y2="495.30" stroke="#2a2a2a" stroke-width="0.6"/>
<line x1="147.13" y1="493.70" x2="147.13" y2="495.30" stroke="#2a2a2a" stroke-width="0.6"/>
<line x1="154.51" y1="493.70" x2="154.51" y2="495.30" stroke="#2a2a2a" stroke-width="0.6"/>
<line x1="158.26" y1="493.70" x2="158.26" y2="495.30" stroke="#2a2a2a" stroke-width="0.6"/>
<line x1="160.92" y1="493.70" x2="160.92" y2="495.30" stroke="#2a2a2a" stroke-width="0.6"/>
<line x1="162.99" y1="493.70" x2="162.99" y2="495.30" stroke="#2a2a2a" stroke-width="0.6"/>
<line x1="164.67" y1="493.70" x2="164.67" y2="495.30" stroke="#2a2a2a" stroke-width="0.6"/>
<line x1="166.10" y1="493.70" x2="166.10" y2="495.30" stroke="#2a2a2a" stroke-width="0.6"/>
<line x1="167.34" y1="493.70" x2="167.34" y2="495.30" stroke="#2a2a2a" stroke-width="0.6"/>
<line x1="168.43" y1="493.70" x2="168.43" y2="495.30" stroke="#2a2a2a" stroke-width="0.6"/>
<line x1="63.32" y1="493.70" x2="63.32" y2="495.30" stroke="#2a2a2a" stroke-width="0.6"/>
<line x1="65.64" y1="493.70" x2="65.64" y2="495.30" stroke="#2a2a2a" stroke-width="0.6"/>
<line x1="67.96" y1="493.70" x2="67.96" y2="495.30" stroke="#2a2a2a" stroke-width="0.6"/>
<line x1="70.28" y1="493.70" x2="70.28" y2="495.30" stroke="#2a2a2a" stroke-width="0.6"/>
<line x1="72.60" y1="493.70" x2="72.60" y2="495.30" stroke="#2a2a2a" stroke-width="0.6"/>
<line x1="74.92" y1="493.70" x2="74.92" y2="495.30" stroke="#2a2a2a" stroke-width="0.6"/>
<line x1="77.24" y1="493.70" x2="77.24" y2="495.30" stroke="#2a2a2a" stroke-width="0.6"/>
<line x1="79.56" y1="493.70" x2="79.56" y2="495.30" stroke="#2a2a2a" stroke-width="0.6"/>
<line x1="81.88" y1="493.70" x2="81.88" y2="495.30" stroke="#2a2a2a" stroke-width="0.6"/>
<text x="80.30" y="380.00" font-size="7.6" text-anchor="middle" font-style="italic">B0</text>
<text x="119.70" y="380.00" font-size="7.6" text-anchor="middle" font-style="italic">B1</text>
<text x="152.30" y="380.00" font-size="7.6" text-anchor="middle" font-style="italic">B2</text>
<text x="165.20" y="402.40" font-size="7.6" font-style="italic">B2</text>
<text x="165.20" y="432.40" font-size="7.6" font-style="italic">B1</text>
<text x="165.20" y="468.00" font-size="7.6" font-style="italic">B0</text>
<text x="116.80" y="525.80" font-size="9" text-anchor="middle" textLength="86" lengthAdjust="spacingAndGlyphs">Clonal CD4<tspan font-size="5" dy="-3">+</tspan><tspan dy="3"> T-cell cluster</tspan></text>
<text x="116.00" y="537.30" font-size="9" text-anchor="middle" textLength="54.5" lengthAdjust="spacingAndGlyphs">(cells/µL blood)</text>
<text x="16.60" y="433.30" font-size="8.6" text-anchor="middle" textLength="99.5" lengthAdjust="spacingAndGlyphs" transform="rotate(-90 16.60 433.30)">Sézary count by EORTC gating</text>
<text x="28.40" y="432.40" font-size="8.6" text-anchor="middle" textLength="57.5" lengthAdjust="spacingAndGlyphs" transform="rotate(-90 28.40 432.40)">(cells/µL blood)</text>
<text x="197.00" y="361.30" font-size="12" font-weight="bold" style="fill:#0a0a0a;stroke:#0a0a0a;stroke-width:0.15px;">F</text>
<text x="273.90" y="360.60" font-size="9.3" text-anchor="middle" textLength="23.80000000000001" lengthAdjust="spacingAndGlyphs">CTCL</text>
<line x1="262.00" y1="362.10" x2="285.80" y2="362.10" stroke="#3a3a3a" stroke-width="0.8"/>
<text x="267.90" y="391.00" font-size="8.2" text-anchor="end" textLength="40" lengthAdjust="spacingAndGlyphs">CD4+ T-cell</text>
<text x="267.90" y="400.50" font-size="8.2" text-anchor="end" textLength="23" lengthAdjust="spacingAndGlyphs">clones</text>
<path d="M278.8 375.6H274.8V411.1H278.8" fill="none" stroke="#222" stroke-width="1"/>
<rect x="282.50" y="378.40" width="6.80" height="4.40" fill="#c7c4ca"/>
<text x="292.70" y="383.20" font-size="7.6" textLength="30.5" lengthAdjust="spacingAndGlyphs">No clone</text>
<rect x="282.50" y="386.75" width="6.80" height="4.40" fill="#adc085"/>
<text x="292.70" y="391.55" font-size="7.6" textLength="31" lengthAdjust="spacingAndGlyphs">Clone B0</text>
<rect x="282.50" y="395.10" width="6.80" height="4.40" fill="#3aa935"/>
<text x="292.70" y="399.90" font-size="7.6" textLength="31" lengthAdjust="spacingAndGlyphs">Clone B1</text>
<rect x="282.50" y="403.45" width="6.80" height="4.40" fill="#0f6b4f"/>
<text x="292.70" y="408.25" font-size="7.6" textLength="31" lengthAdjust="spacingAndGlyphs">Clone B2</text>
<rect x="228.40" y="420.60" width="68.85" height="11.40" fill="#c7c4ca"/>
<rect x="297.25" y="420.60" width="22.95" height="11.40" fill="#adc085"/>
<rect x="228.40" y="438.20" width="25.70" height="11.40" fill="#c7c4ca"/>
<rect x="254.10" y="438.20" width="7.80" height="11.40" fill="#adc085"/>
<rect x="261.91" y="438.20" width="56.00" height="11.40" fill="#3aa935"/>
<rect x="317.91" y="438.20" width="2.29" height="11.40" fill="#0f6b4f"/>
<rect x="228.40" y="456.50" width="91.80" height="11.90" fill="#0f6b4f"/>
<line x1="228.00" y1="414.20" x2="228.00" y2="476.00" stroke="#2a2a2a" stroke-width="1.3"/>
<line x1="225.00" y1="426.30" x2="228.00" y2="426.30" stroke="#2a2a2a" stroke-width="1"/>
<text x="221.80" y="429.10" font-size="7.9" text-anchor="end">B0</text>
<line x1="225.00" y1="443.90" x2="228.00" y2="443.90" stroke="#2a2a2a" stroke-width="1"/>
<text x="221.80" y="446.70" font-size="7.9" text-anchor="end">B1</text>
<line x1="225.00" y1="462.45" x2="228.00" y2="462.45" stroke="#2a2a2a" stroke-width="1"/>
<text x="221.80" y="465.25" font-size="7.9" text-anchor="end">B2</text>
<line x1="227.50" y1="475.70" x2="323.00" y2="475.70" stroke="#2a2a2a" stroke-width="1.3"/>
<line x1="228.40" y1="475.70" x2="228.40" y2="478.50" stroke="#2a2a2a" stroke-width="1"/>
<line x1="237.58" y1="475.70" x2="237.58" y2="477.30" stroke="#2a2a2a" stroke-width="0.6"/>
<line x1="246.76" y1="475.70" x2="246.76" y2="477.30" stroke="#2a2a2a" stroke-width="0.6"/>
<line x1="255.94" y1="475.70" x2="255.94" y2="477.30" stroke="#2a2a2a" stroke-width="0.6"/>
<line x1="265.12" y1="475.70" x2="265.12" y2="477.30" stroke="#2a2a2a" stroke-width="0.6"/>
<line x1="274.30" y1="475.70" x2="274.30" y2="478.50" stroke="#2a2a2a" stroke-width="1"/>
<line x1="283.48" y1="475.70" x2="283.48" y2="477.30" stroke="#2a2a2a" stroke-width="0.6"/>
<line x1="292.66" y1="475.70" x2="292.66" y2="477.30" stroke="#2a2a2a" stroke-width="0.6"/>
<line x1="301.84" y1="475.70" x2="301.84" y2="477.30" stroke="#2a2a2a" stroke-width="0.6"/>
<line x1="311.02" y1="475.70" x2="311.02" y2="477.30" stroke="#2a2a2a" stroke-width="0.6"/>
<line x1="320.20" y1="475.70" x2="320.20" y2="478.50" stroke="#2a2a2a" stroke-width="1"/>
<text x="228.40" y="488.00" font-size="8.0" text-anchor="middle">0</text>
<text x="274.30" y="488.00" font-size="8.0" text-anchor="middle">50</text>
<text x="320.20" y="488.00" font-size="8.0" text-anchor="middle">100</text>
<text x="274.20" y="504.60" font-size="9" text-anchor="middle" textLength="45.5" lengthAdjust="spacingAndGlyphs">% of samples</text>
<text x="204.60" y="443.50" font-size="9" text-anchor="middle" textLength="46" lengthAdjust="spacingAndGlyphs" transform="rotate(-90 204.60 443.50)">EORTC gating</text>
<text x="342.30" y="361.40" font-size="12" font-weight="bold" style="fill:#0a0a0a;stroke:#0a0a0a;stroke-width:0.15px;">G</text>
<text x="455.95" y="360.20" font-size="9.3" text-anchor="middle" textLength="112.30000000000001" lengthAdjust="spacingAndGlyphs">Inflammatory dermatoses</text>
<line x1="399.80" y1="361.70" x2="512.10" y2="361.70" stroke="#3a3a3a" stroke-width="0.8"/>
<line x1="394.40" y1="383.88" x2="518.30" y2="383.88" stroke="#1a1a1a" stroke-width="1.05" stroke-dasharray="1.3 1.4"/>
<line x1="394.40" y1="464.22" x2="518.30" y2="464.22" stroke="#1a1a1a" stroke-width="1.05" stroke-dasharray="1.3 1.4"/>
<line x1="394.40" y1="382.50" x2="394.40" y2="491.00" stroke="#2a2a2a" stroke-width="1.3"/>
<line x1="391.40" y1="464.22" x2="394.40" y2="464.22" stroke="#2a2a2a" stroke-width="1"/>
<text x="387.90" y="467.12" font-size="8.1" text-anchor="end">250</text>
<line x1="391.40" y1="437.44" x2="394.40" y2="437.44" stroke="#2a2a2a" stroke-width="1"/>
<text x="387.90" y="440.34" font-size="8.1" text-anchor="end">500</text>
<line x1="391.40" y1="410.66" x2="394.40" y2="410.66" stroke="#2a2a2a" stroke-width="1"/>
<text x="387.90" y="413.56" font-size="8.1" text-anchor="end">750</text>
<line x1="391.40" y1="383.88" x2="394.40" y2="383.88" stroke="#2a2a2a" stroke-width="1"/>
<text x="387.90" y="386.78" font-size="8.1" text-anchor="end">1000</text>
<text x="360.70" y="432.30" font-size="8.6" text-anchor="middle" textLength="82" lengthAdjust="spacingAndGlyphs" transform="rotate(-90 360.70 432.30)">Sézary cells /µL of blood</text>
<line x1="424.60" y1="454.00" x2="424.60" y2="475.00" stroke="#333" stroke-width="0.9"/>
<line x1="417.40" y1="454.00" x2="431.80" y2="454.00" stroke="#333" stroke-width="0.9"/>
<rect x="410.10" y="475.10" width="29.70" height="8.90" fill="#5c1670" stroke="#3a0c48" stroke-width="0.8"/>
<line x1="410.10" y1="481.30" x2="439.80" y2="481.30" stroke="#2d0838" stroke-width="0.8"/>
<path d="M424.6 405.9h0M424.6 426.2h0M422.3 439.0h0M424.6 439.0h0M424.6 447.8h0" stroke="#222" stroke-width="1.4" stroke-linecap="round" fill="none" opacity="1"/>
<path d="M417.5 489.0h0M418.6 489.1h0M419.7 489.4h0M420.8 488.9h0M421.9 489.2h0M423.0 489.2h0M424.1 489.3h0M425.2 488.9h0M426.3 489.6h0M427.4 489.6h0M428.5 489.2h0M429.6 489.4h0M430.7 488.9h0M431.8 489.5h0" stroke="#222" stroke-width="1.2" stroke-linecap="round" fill="none" opacity="1"/>
<path d="M486.3 474.4h0M486.3 478.5h0M486.3 483.6h0M485.6 485.4h0M487.0 485.6h0" stroke="#222" stroke-width="1.3" stroke-linecap="round" fill="none" opacity="1"/>
<line x1="471.50" y1="490.30" x2="501.00" y2="490.30" stroke="#222" stroke-width="1.3"/>
<g fill="none" stroke="#666" stroke-width="0.9">
<rect x="342.3" y="490.9" width="174.9" height="38.1"/>
<line x1="342.3" y1="503.5" x2="517.2" y2="503.5"/><line x1="342.3" y1="516.2" x2="517.2" y2="516.2"/>
<line x1="394.4" y1="490.9" x2="394.4" y2="529"/><line x1="458.4" y1="490.9" x2="458.4" y2="529"/>
</g>
<line x1="424.60" y1="490.90" x2="424.60" y2="493.50" stroke="#2a2a2a" stroke-width="0.9"/>
<line x1="486.30" y1="490.90" x2="486.30" y2="493.50" stroke="#2a2a2a" stroke-width="0.9"/>
<text x="368.30" y="500.20" font-size="8.6" text-anchor="middle" textLength="39" lengthAdjust="spacingAndGlyphs">Specificity</text>
<text x="426.40" y="500.20" font-size="8.6" text-anchor="middle">EORTC</text>
<text x="487.80" y="500.20" font-size="8.6" text-anchor="middle">CD4<tspan font-size="5" dy="-3">+</tspan><tspan dy="3"> clones</tspan></text>
<text x="368.30" y="512.90" font-size="8.6" text-anchor="middle">%B0</text>
<text x="426.40" y="512.90" font-size="8.6" text-anchor="middle">92%</text>
<text x="487.80" y="512.90" font-size="8.6" text-anchor="middle">100%</text>
<text x="368.30" y="525.60" font-size="8.6" text-anchor="middle" textLength="50" lengthAdjust="spacingAndGlyphs">Limit of blank</text>
<text x="426.40" y="525.60" font-size="8.6" text-anchor="middle">345 cells/µL</text>
<text x="487.80" y="525.60" font-size="8.6" text-anchor="middle">9 cells/µL</text>
<text x="515.30" y="426.00" font-size="7.6" text-anchor="middle" font-style="italic">B1</text>
<text x="515.30" y="481.00" font-size="7.6" text-anchor="middle" font-style="italic">B0</text>
</svg>
</body></html>
